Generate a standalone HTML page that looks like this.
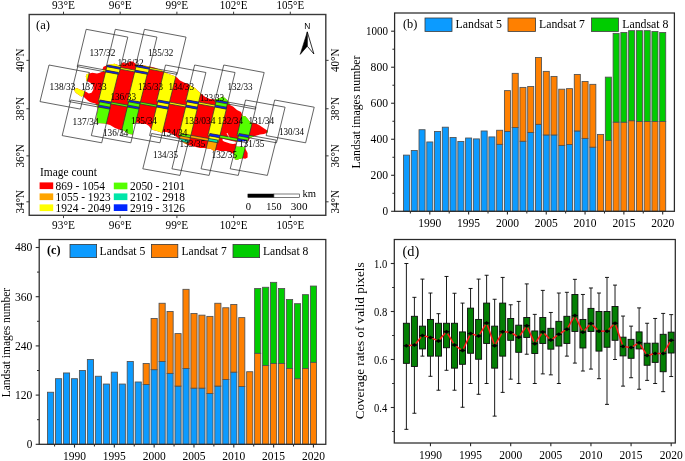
<!DOCTYPE html>
<html><head><meta charset="utf-8"><style>html,body{margin:0;padding:0;background:#fff;width:685px;height:461px;overflow:hidden}text{fill:#000}</style></head>
<body><svg width="685" height="461" viewBox="0 0 685 461" style="display:block;will-change:transform;font-family:'Liberation Serif',serif;fill:#000">
<rect width="685" height="461" fill="#fff"/>
<g>
<path d="M132.70,61.50 L130.40,61.50 L127.40,63.00 L125.00,63.50 L123.40,62.20 L121.60,63.30 L121.43,63.52 L119.30,66.20 L117.50,64.70 L114.60,63.80 L110.50,64.40 L107.79,65.10 L107.20,65.25 L107.00,65.30 L106.60,65.47 L103.50,66.80 L102.50,69.00 L102.66,69.55 L103.21,71.48 L103.25,71.60 L100.90,72.30 L99.00,73.10 L97.00,73.50 L92.30,72.70 L89.15,73.50 L87.60,73.90 L86.20,74.70 L85.80,76.50 L86.30,78.60 L86.45,81.00 L87.24,81.28 L88.40,81.70 L90.75,82.90 L92.70,84.50 L93.50,87.20 L93.10,90.30 L91.50,92.70 L88.80,93.40 L86.45,91.90 L84.80,91.22 L84.50,91.10 L82.90,90.70 L79.80,89.50 L76.70,88.00 L74.30,89.50 L74.30,90.30 L75.10,91.90 L76.70,93.40 L79.00,95.00 L81.40,96.60 L83.30,95.80 L83.55,96.28 L84.10,97.30 L86.00,98.90 L87.60,100.50 L90.00,102.00 L92.30,102.80 L95.40,103.60 L96.28,104.64 L97.00,105.50 L97.26,106.82 L97.50,108.00 L97.75,109.01 L98.00,110.00 L97.00,114.00 L96.50,119.00 L97.00,123.00 L105.00,123.50 L106.27,123.88 L110.00,125.00 L115.00,128.00 L119.00,129.50 L121.85,129.86 L123.00,130.00 L129.00,134.00 L132.84,134.48 L133.00,134.50 L133.00,133.82 L133.00,124.00 L135.61,123.02 L137.00,122.50 L142.00,124.00 L146.00,124.00 L149.00,126.00 L151.00,129.00 L151.16,129.08 L153.00,130.00 L157.00,131.00 L161.00,132.50 L162.48,132.35 L166.00,132.00 L170.00,133.00 L174.00,135.00 L178.00,138.00 L178.38,138.25 L179.38,138.92 L181.00,140.00 L182.62,141.62 L184.00,143.00 L187.63,144.81 L188.00,145.00 L192.00,146.00 L196.00,147.00 L200.00,148.00 L204.00,148.00 L206.18,148.27 L208.00,148.50 L211.00,149.00 L214.00,151.00 L215.32,150.56 L217.00,150.00 L220.00,151.00 L226.00,151.00 L230.00,152.00 L233.89,153.95 L234.00,154.00 L234.80,159.20 L236.80,160.00 L239.40,159.00 L242.00,158.20 L242.52,158.30 L245.30,158.80 L247.60,157.40 L247.60,153.00 L246.00,150.00 L245.06,148.12 L244.50,147.00 L236.00,146.50 L236.17,144.80 L236.50,141.60 L236.98,141.57 L239.78,141.42 L242.00,141.30 L246.82,141.08 L247.78,141.03 L248.50,141.00 L250.00,138.00 L250.05,137.98 L254.41,136.24 L255.00,136.00 L260.00,134.50 L264.00,134.00 L266.72,133.09 L267.00,133.00 L268.00,131.00 L267.33,130.55 L265.00,129.00 L262.00,127.00 L259.00,125.00 L256.00,123.50 L252.18,122.81 L250.50,122.50 L247.00,118.00 L245.00,116.00 L243.00,116.50 L242.09,114.45 L241.00,112.00 L237.00,110.00 L233.00,106.50 L230.00,105.00 L229.68,104.37 L228.61,102.22 L228.03,101.06 L228.00,101.00 L226.00,99.00 L223.00,96.50 L220.00,98.00 L217.00,99.00 L215.35,99.27 L214.00,99.50 L210.00,99.00 L206.00,97.50 L202.00,94.50 L200.77,93.43 L198.00,91.00 L195.00,88.00 L192.00,86.50 L189.71,85.07 L188.00,84.00 L184.00,82.50 L180.00,80.50 L177.00,77.50 L175.72,76.86 L173.00,75.50 L167.00,73.50 L164.75,72.09 L163.91,71.57 L163.00,71.00 L158.64,69.13 L156.00,68.00 L150.00,66.50 L149.84,66.47 L144.00,65.50 L138.01,65.30 L138.00,65.30 L138.00,65.30 L136.08,64.02 L135.00,63.30Z" fill="#ff0000"/>
<path d="M121.47,63.51 L121.47,63.51 L121.47,63.50 L121.47,63.50 L121.47,63.49 L121.47,63.49 L121.46,63.49 L121.46,63.48 L121.46,63.48 L121.45,63.48 L121.45,63.48 L121.44,63.47 L121.44,63.47 L121.43,63.47 L121.43,63.47 L121.42,63.47 L121.42,63.47 L121.41,63.47 L121.41,63.47 L121.40,63.47 L121.40,63.48 L121.40,63.48 L121.39,63.48 L121.39,63.49 L121.39,63.49 L119.29,66.13 L117.53,64.66 L117.53,64.66 L117.52,64.66 L117.52,64.65 L117.51,64.65 L114.61,63.75 L114.61,63.75 L114.61,63.75 L114.60,63.75 L114.60,63.75 L114.59,63.75 L110.49,64.35 L110.49,64.35 L107.77,65.05 L107.77,65.05 L107.77,65.05 L107.76,65.05 L107.76,65.06 L107.75,65.06 L107.75,65.06 L107.75,65.07 L107.74,65.07 L107.74,65.08 L107.74,65.08 L107.74,65.09 L107.74,65.09 L107.74,65.09 L107.74,65.10 L107.74,65.10 L107.74,65.11 L107.74,65.11 L107.74,65.12 L107.74,65.12 L107.75,65.13 L107.75,65.13 L107.75,65.13 L107.76,65.14 L107.76,65.14 L107.76,65.14 L107.77,65.14 L107.77,65.15 L107.78,65.15 L120.42,67.49 L120.02,69.12 L106.90,66.66 L107.25,65.26 L107.25,65.26 L107.25,65.25 L107.25,65.25 L107.25,65.24 L107.25,65.24 L107.25,65.23 L107.24,65.23 L107.24,65.22 L107.24,65.22 L107.24,65.22 L107.23,65.21 L107.23,65.21 L107.22,65.21 L107.22,65.20 L107.22,65.20 L107.21,65.20 L107.21,65.20 L107.20,65.20 L107.20,65.20 L107.19,65.20 L107.19,65.20 L106.99,65.25 L106.98,65.25 L106.98,65.25 L106.58,65.42 L106.58,65.43 L106.57,65.43 L106.57,65.43 L106.57,65.44 L106.56,65.44 L106.56,65.44 L106.56,65.45 L106.56,65.45 L106.55,65.46 L106.28,66.59 L106.28,66.59 L106.28,66.60 L106.28,66.60 L106.28,66.61 L106.28,66.61 L106.28,66.62 L106.28,66.62 L106.29,66.63 L106.29,66.63 L106.29,66.63 L106.30,66.64 L106.30,66.64 L106.30,66.64 L106.31,66.64 L106.31,66.65 L106.32,66.65 L106.32,66.65 L106.78,66.74 L105.95,70.11 L102.67,69.50 L102.66,69.50 L102.66,69.50 L102.65,69.50 L102.65,69.50 L102.64,69.51 L102.64,69.51 L102.64,69.51 L102.63,69.51 L102.63,69.52 L102.62,69.52 L102.62,69.52 L102.62,69.53 L102.62,69.53 L102.61,69.53 L102.61,69.54 L102.61,69.54 L102.61,69.55 L102.61,69.55 L102.61,69.56 L102.61,69.56 L102.61,69.57 L103.17,71.49 L103.17,71.50 L103.17,71.50 L103.17,71.51 L103.18,71.51 L103.18,71.51 L103.18,71.52 L103.19,71.52 L103.19,71.52 L103.20,71.52 L103.20,71.53 L103.21,71.53 L105.50,71.96 L98.21,101.59 L98.21,101.59 L98.21,101.60 L98.21,101.60 L98.21,101.61 L98.21,101.61 L98.21,101.62 L98.21,101.62 L98.22,101.63 L98.22,101.63 L98.22,101.63 L98.23,101.64 L98.23,101.64 L98.23,101.64 L98.24,101.64 L98.24,101.65 L98.25,101.65 L98.25,101.65 L99.48,101.88 L99.48,101.88 L99.49,101.88 L99.49,101.88 L99.50,101.88 L99.50,101.88 L99.51,101.87 L99.51,101.87 L99.52,101.87 L99.52,101.87 L99.53,101.86 L99.53,101.86 L99.53,101.85 L99.53,101.85 L99.54,101.84 L99.54,101.84 L99.97,100.06 L111.25,102.11 L111.26,102.12 L111.26,102.12 L111.27,102.11 L111.27,102.11 L111.28,102.11 L111.28,102.11 L111.28,102.11 L111.29,102.11 L111.29,102.10 L111.30,102.10 L111.30,102.10 L111.30,102.09 L111.31,102.09 L111.31,102.08 L111.31,102.08 L118.13,74.33 L118.79,74.45 L118.80,74.45 L118.80,74.45 L118.81,74.45 L118.81,74.45 L118.82,74.45 L118.82,74.45 L118.83,74.44 L118.83,74.44 L118.83,74.44 L118.84,74.43 L118.84,74.43 L118.84,74.43 L118.85,74.42 L118.85,74.42 L118.85,74.41 L120.10,69.23 L134.63,71.96 L127.34,101.59 L127.34,101.59 L127.34,101.60 L127.34,101.60 L127.34,101.61 L127.34,101.61 L127.34,101.62 L127.34,101.62 L127.35,101.63 L127.35,101.63 L127.35,101.63 L127.36,101.64 L127.36,101.64 L127.36,101.64 L127.37,101.64 L127.37,101.65 L127.38,101.65 L127.38,101.65 L128.61,101.88 L128.61,101.88 L128.62,101.88 L128.62,101.88 L128.63,101.88 L128.63,101.88 L128.64,101.87 L128.64,101.87 L128.65,101.87 L128.65,101.87 L128.66,101.86 L128.66,101.86 L128.66,101.85 L128.66,101.85 L128.67,101.84 L128.67,101.84 L129.10,100.06 L140.38,102.11 L140.39,102.12 L140.39,102.12 L140.40,102.11 L140.40,102.11 L140.41,102.11 L140.41,102.11 L140.41,102.11 L140.42,102.11 L140.42,102.10 L140.43,102.10 L140.43,102.10 L140.43,102.09 L140.44,102.09 L140.44,102.08 L140.44,102.08 L147.26,74.33 L147.92,74.45 L147.93,74.45 L147.93,74.45 L147.94,74.45 L147.94,74.45 L147.95,74.45 L147.95,74.45 L147.96,74.44 L147.96,74.44 L147.96,74.44 L147.97,74.43 L147.97,74.43 L147.97,74.43 L147.98,74.42 L147.98,74.42 L147.98,74.41 L149.23,69.23 L163.76,71.96 L156.47,101.59 L156.47,101.59 L156.47,101.60 L156.47,101.60 L156.47,101.61 L156.47,101.61 L156.47,101.62 L156.47,101.62 L156.48,101.63 L156.48,101.63 L156.48,101.63 L156.49,101.64 L156.49,101.64 L156.49,101.64 L156.50,101.64 L156.50,101.65 L156.51,101.65 L156.51,101.65 L157.69,101.87 L156.91,105.07 L156.91,105.08 L156.91,105.08 L156.91,105.09 L156.91,105.09 L156.91,105.10 L156.91,105.10 L156.92,105.11 L156.92,105.11 L156.92,105.12 L156.92,105.12 L156.93,105.12 L156.93,105.13 L156.93,105.13 L156.94,105.13 L156.94,105.13 L156.95,105.13 L156.95,105.14 L168.21,107.19 L167.75,109.04 L156.51,106.95 L156.50,106.95 L156.50,106.95 L156.49,106.95 L156.49,106.95 L156.48,106.96 L156.48,106.96 L156.47,106.96 L156.47,106.96 L156.46,106.97 L156.46,106.97 L156.46,106.97 L156.46,106.98 L156.45,106.98 L156.45,106.99 L156.45,106.99 L151.12,129.07 L151.12,129.08 L151.11,129.08 L151.11,129.08 L151.12,129.09 L151.12,129.09 L151.12,129.10 L151.12,129.10 L151.12,129.11 L151.12,129.11 L151.13,129.12 L151.13,129.12 L151.13,129.12 L151.14,129.12 L151.14,129.13 L152.98,130.04 L152.98,130.05 L152.99,130.05 L156.99,131.05 L160.98,132.55 L160.99,132.55 L160.99,132.55 L161.00,132.55 L161.00,132.55 L161.00,132.55 L162.49,132.40 L162.49,132.40 L162.50,132.40 L162.50,132.40 L162.51,132.40 L162.51,132.39 L162.52,132.39 L162.52,132.39 L162.52,132.38 L162.52,132.38 L162.53,132.38 L162.53,132.37 L162.53,132.37 L162.53,132.36 L168.61,107.21 L168.61,107.21 L168.61,107.20 L168.61,107.20 L168.61,107.19 L168.61,107.19 L168.61,107.18 L168.61,107.18 L168.60,107.17 L168.60,107.17 L168.60,107.17 L168.59,107.16 L168.59,107.16 L168.59,107.16 L168.58,107.16 L168.58,107.15 L168.57,107.15 L168.57,107.15 L168.33,107.11 L169.10,103.99 L185.57,107.04 L178.67,135.59 L178.67,135.59 L178.67,135.60 L178.67,135.60 L178.67,135.61 L178.67,135.61 L178.67,135.62 L178.67,135.62 L178.68,135.63 L178.68,135.63 L178.68,135.63 L178.69,135.64 L178.69,135.64 L178.69,135.64 L178.70,135.64 L178.70,135.65 L178.71,135.65 L178.71,135.65 L180.13,135.91 L180.14,135.91 L180.14,135.91 L180.15,135.91 L180.15,135.91 L180.16,135.91 L180.16,135.90 L180.17,135.90 L180.17,135.90 L180.17,135.90 L180.18,135.89 L180.18,135.89 L180.18,135.89 L180.19,135.88 L180.19,135.88 L180.19,135.87 L180.77,133.56 L190.89,135.35 L190.90,135.35 L190.90,135.35 L190.91,135.35 L190.91,135.35 L190.92,135.35 L190.92,135.35 L190.93,135.35 L190.93,135.34 L190.93,135.34 L190.94,135.34 L190.94,135.33 L190.94,135.33 L190.95,135.33 L190.95,135.32 L190.95,135.32 L197.74,107.21 L197.74,107.21 L197.74,107.20 L197.74,107.20 L197.74,107.19 L197.74,107.19 L197.74,107.18 L197.74,107.18 L197.73,107.17 L197.73,107.17 L197.73,107.17 L197.72,107.16 L197.72,107.16 L197.72,107.16 L197.71,107.16 L197.71,107.15 L197.70,107.15 L197.70,107.15 L197.46,107.11 L198.23,103.99 L214.70,107.04 L207.80,135.59 L207.80,135.59 L207.80,135.60 L207.80,135.60 L207.80,135.61 L207.80,135.61 L207.80,135.62 L207.80,135.62 L207.81,135.63 L207.81,135.63 L207.81,135.63 L207.82,135.64 L207.82,135.64 L207.82,135.64 L207.83,135.64 L207.83,135.65 L207.84,135.65 L207.84,135.65 L209.21,135.90 L208.58,138.44 L208.58,138.44 L208.58,138.45 L208.58,138.45 L208.58,138.46 L208.58,138.46 L208.58,138.47 L208.58,138.47 L208.58,138.47 L208.59,138.48 L208.59,138.48 L208.59,138.49 L208.60,138.49 L208.60,138.49 L208.60,138.49 L208.61,138.50 L208.61,138.50 L208.62,138.50 L217.87,140.14 L217.25,142.62 L217.25,142.62 L217.25,142.63 L217.25,142.63 L217.25,142.64 L217.25,142.64 L217.25,142.65 L217.25,142.65 L217.26,142.66 L217.26,142.66 L217.26,142.66 L217.26,142.67 L217.27,142.67 L217.27,142.67 L217.28,142.68 L217.28,142.68 L217.29,142.68 L217.29,142.68 L218.21,142.85 L218.22,142.85 L218.22,142.85 L218.23,142.85 L218.23,142.85 L218.24,142.85 L218.24,142.85 L218.25,142.84 L218.25,142.84 L218.25,142.84 L218.26,142.83 L218.26,142.83 L218.26,142.83 L218.27,142.82 L218.27,142.82 L218.27,142.81 L219.50,137.73 L219.50,137.72 L219.50,137.72 L219.50,137.71 L219.50,137.71 L219.50,137.70 L219.50,137.70 L219.49,137.69 L219.49,137.69 L219.49,137.68 L219.49,137.68 L219.48,137.68 L219.48,137.67 L219.48,137.67 L219.47,137.67 L219.47,137.67 L219.46,137.67 L219.46,137.66 L209.33,135.82 L209.90,133.56 L220.02,135.35 L220.03,135.35 L220.03,135.35 L220.04,135.35 L220.04,135.35 L220.05,135.35 L220.05,135.35 L220.06,135.35 L220.06,135.34 L220.06,135.34 L220.07,135.34 L220.07,135.33 L220.07,135.33 L220.08,135.33 L220.08,135.32 L220.08,135.32 L226.87,107.21 L226.87,107.21 L226.87,107.20 L226.87,107.20 L226.87,107.19 L226.87,107.19 L226.87,107.18 L226.87,107.18 L226.86,107.17 L226.86,107.17 L226.86,107.17 L226.85,107.16 L226.85,107.16 L226.85,107.16 L226.84,107.16 L226.84,107.15 L226.83,107.15 L226.83,107.15 L226.54,107.10 L226.53,107.10 L226.53,107.10 L226.52,107.10 L226.52,107.10 L226.51,107.10 L226.51,107.10 L226.51,107.10 L226.50,107.11 L226.50,107.11 L226.49,107.11 L226.49,107.12 L226.49,107.12 L226.49,107.13 L226.48,107.13 L226.48,107.14 L226.01,109.04 L214.82,106.96 L215.27,105.10 L215.27,105.09 L215.27,105.09 L215.27,105.08 L215.27,105.08 L215.27,105.07 L215.27,105.07 L215.27,105.06 L215.26,105.06 L215.26,105.06 L215.26,105.05 L215.26,105.05 L215.25,105.05 L215.25,105.04 L215.24,105.04 L215.24,105.04 L215.24,105.04 L215.23,105.04 L198.71,102.03 L200.82,93.44 L200.82,93.43 L200.82,93.43 L200.82,93.42 L200.82,93.42 L200.82,93.41 L200.82,93.41 L200.82,93.41 L200.82,93.40 L200.81,93.40 L200.81,93.39 L200.81,93.39 L198.03,90.96 L195.04,87.96 L195.03,87.96 L195.03,87.96 L195.02,87.96 L192.02,86.46 L189.74,85.03 L189.74,85.03 L189.73,85.02 L189.73,85.02 L189.72,85.02 L189.72,85.02 L189.71,85.02 L189.71,85.02 L189.70,85.02 L189.70,85.02 L189.69,85.03 L189.69,85.03 L189.68,85.03 L189.68,85.03 L189.68,85.04 L189.67,85.04 L189.67,85.05 L189.67,85.05 L189.67,85.05 L189.67,85.06 L185.60,101.59 L185.60,101.59 L185.60,101.60 L185.60,101.60 L185.60,101.61 L185.60,101.61 L185.60,101.62 L185.60,101.62 L185.61,101.63 L185.61,101.63 L185.61,101.63 L185.62,101.64 L185.62,101.64 L185.62,101.64 L185.63,101.64 L185.63,101.65 L185.64,101.65 L185.64,101.65 L186.82,101.87 L186.05,105.03 L169.58,102.03 L175.77,76.87 L175.77,76.87 L175.77,76.86 L175.77,76.86 L175.77,76.85 L175.77,76.85 L175.77,76.84 L175.76,76.84 L175.76,76.83 L175.76,76.83 L175.76,76.83 L175.75,76.82 L175.75,76.82 L175.74,76.82 L175.74,76.81 L173.02,75.46 L173.02,75.45 L167.02,73.45 L164.77,72.05 L164.77,72.05 L164.76,72.04 L164.76,72.04 L164.75,72.04 L163.88,71.88 L163.95,71.58 L163.95,71.57 L163.96,71.57 L163.96,71.56 L163.95,71.56 L163.95,71.55 L163.95,71.55 L163.95,71.54 L163.95,71.54 L163.95,71.54 L163.94,71.53 L163.94,71.53 L163.94,71.53 L163.93,71.52 L163.03,70.96 L163.02,70.96 L163.02,70.95 L158.66,69.08 L158.65,69.08 L158.65,69.08 L149.67,67.41 L149.89,66.49 L149.89,66.48 L149.89,66.48 L149.89,66.47 L149.89,66.47 L149.89,66.46 L149.89,66.46 L149.89,66.45 L149.89,66.45 L149.88,66.44 L149.88,66.44 L149.88,66.44 L149.87,66.43 L149.87,66.43 L149.86,66.43 L149.86,66.43 L149.86,66.43 L149.85,66.42 L144.01,65.45 L144.00,65.45 L138.02,65.25 L136.11,63.98 L136.11,63.98 L136.10,63.98 L136.10,63.97 L136.09,63.97 L136.09,63.97 L136.08,63.97 L136.08,63.97 L136.07,63.97 L136.07,63.97 L136.06,63.97 L136.06,63.98 L136.06,63.98 L136.05,63.98 L136.05,63.99 L136.04,63.99 L136.04,63.99 L136.04,64.00 L136.04,64.00 L136.03,64.01 L136.03,64.01 L135.41,66.59 L135.41,66.59 L135.41,66.60 L135.41,66.60 L135.41,66.61 L135.41,66.61 L135.41,66.62 L135.41,66.62 L135.42,66.63 L135.42,66.63 L135.42,66.63 L135.43,66.64 L135.43,66.64 L135.43,66.64 L135.44,66.64 L135.44,66.65 L135.45,66.65 L135.45,66.65 L135.91,66.74 L135.08,70.11 L120.54,67.41 L121.47,63.53 L121.47,63.53 L121.48,63.52 L121.47,63.52ZM136.03,66.66 L136.43,65.06 L137.99,65.35 L137.99,65.35 L137.99,65.35 L138.00,65.35 L149.55,67.49 L149.15,69.12ZM118.06,74.21 L105.62,71.88 L106.03,70.23 L118.47,72.54ZM147.60,72.54 L147.19,74.21 L134.75,71.88 L135.16,70.23ZM158.23,100.06 L169.46,102.10 L169.02,103.87 L157.81,101.79ZM196.88,109.04 L185.69,106.96 L186.13,105.14 L197.34,107.19ZM187.36,100.06 L198.59,102.10 L198.15,103.87 L186.94,101.79ZM89.20,73.49 L89.20,73.49 L89.20,73.48 L89.20,73.48 L89.19,73.47 L89.19,73.47 L89.19,73.47 L89.18,73.46 L89.18,73.46 L89.17,73.46 L89.17,73.46 L89.17,73.45 L89.16,73.45 L89.16,73.45 L89.15,73.45 L89.15,73.45 L89.14,73.45 L87.59,73.85 L87.58,73.85 L87.58,73.85 L87.58,73.86 L86.18,74.66 L86.17,74.66 L86.17,74.66 L86.16,74.67 L86.16,74.67 L86.16,74.67 L86.15,74.68 L86.15,74.68 L86.15,74.69 L85.75,76.49 L85.75,76.49 L85.75,76.50 L85.75,76.50 L85.75,76.51 L85.75,76.51 L86.25,78.61 L86.40,81.00 L86.40,81.01 L86.40,81.01 L86.40,81.02 L86.40,81.02 L86.41,81.03 L86.41,81.03 L86.41,81.03 L86.42,81.04 L86.42,81.04 L86.42,81.04 L86.43,81.05 L86.43,81.05 L87.22,81.33 L87.23,81.33 L87.23,81.33 L87.24,81.33 L87.24,81.33 L87.25,81.33 L87.25,81.33 L87.26,81.33 L87.26,81.33 L87.27,81.33 L87.27,81.32 L87.27,81.32 L87.28,81.32 L87.28,81.31 L87.28,81.31 L87.29,81.30 L87.29,81.30 L87.29,81.30 L89.20,73.52 L89.20,73.51 L89.20,73.51 L89.20,73.50 L89.20,73.50ZM84.84,91.21 L84.84,91.20 L84.84,91.20 L84.84,91.19 L84.84,91.19 L84.83,91.19 L84.83,91.18 L84.82,91.18 L84.82,91.18 L84.82,91.18 L84.52,91.05 L84.51,91.05 L82.92,90.65 L79.82,89.45 L76.72,87.95 L76.72,87.95 L76.71,87.95 L76.71,87.95 L76.70,87.95 L76.70,87.95 L76.69,87.95 L76.69,87.95 L76.68,87.95 L76.68,87.96 L76.67,87.96 L74.27,89.46 L74.27,89.46 L74.27,89.46 L74.26,89.47 L74.26,89.47 L74.26,89.48 L74.25,89.48 L74.25,89.49 L74.25,89.49 L74.25,89.49 L74.25,89.50 L74.25,90.30 L74.25,90.30 L74.25,90.31 L74.25,90.31 L74.25,90.32 L74.26,90.32 L75.06,91.92 L75.06,91.93 L75.06,91.93 L75.06,91.93 L75.07,91.94 L76.67,93.44 L76.67,93.44 L78.97,95.04 L78.97,95.04 L81.37,96.64 L81.38,96.64 L81.38,96.65 L81.39,96.65 L81.39,96.65 L81.40,96.65 L81.40,96.65 L81.41,96.65 L81.41,96.65 L81.41,96.65 L81.42,96.65 L83.28,95.86 L83.51,96.30 L83.51,96.30 L83.51,96.31 L83.52,96.31 L83.52,96.31 L83.53,96.32 L83.53,96.32 L83.53,96.32 L83.54,96.32 L83.54,96.32 L83.55,96.33 L83.55,96.33 L83.56,96.33 L83.56,96.32 L83.57,96.32 L83.57,96.32 L83.58,96.32 L83.58,96.32 L83.58,96.32 L83.59,96.31 L83.59,96.31 L83.59,96.30 L83.60,96.30 L83.60,96.30 L83.60,96.29 L83.60,96.29 L84.84,91.23 L84.85,91.23 L84.85,91.22 L84.85,91.22 L84.85,91.21Z" fill="#ffff00"/>
<path d="M136.39,64.95 L136.38,64.95 L136.38,64.95 L136.37,64.95 L136.37,64.95 L136.37,64.96 L136.36,64.96 L136.36,64.96 L136.35,64.97 L136.35,64.97 L136.35,64.97 L136.34,64.98 L136.34,64.98 L136.34,64.99 L135.92,66.68 L135.92,66.69 L135.92,66.69 L135.92,66.70 L135.92,66.70 L135.92,66.71 L135.93,66.71 L135.93,66.72 L135.93,66.72 L135.93,66.73 L135.94,66.73 L135.94,66.73 L135.94,66.74 L135.95,66.74 L135.95,66.74 L135.95,66.74 L135.96,66.74 L135.96,66.75 L149.18,69.22 L149.19,69.22 L149.19,69.22 L149.20,69.22 L149.20,69.22 L149.21,69.22 L149.21,69.22 L149.22,69.22 L149.22,69.22 L149.22,69.21 L149.23,69.21 L149.23,69.20 L149.23,69.20 L149.24,69.20 L149.24,69.19 L149.24,69.19 L149.65,67.47 L149.66,67.46 L149.66,67.46 L149.66,67.45 L149.66,67.45 L149.65,67.44 L149.65,67.44 L149.65,67.43 L149.65,67.43 L149.65,67.42 L149.64,67.42 L149.64,67.42 L149.64,67.41 L149.63,67.41 L149.63,67.41 L149.62,67.41 L149.62,67.41 L149.62,67.40 L138.02,65.25 L138.01,65.25 L138.01,65.25 L138.01,65.25 L136.40,64.95 L136.39,64.95ZM120.53,67.45 L120.52,67.44 L120.52,67.44 L120.52,67.43 L120.52,67.43 L120.52,67.42 L120.51,67.42 L120.51,67.42 L120.51,67.41 L120.50,67.41 L120.50,67.41 L120.49,67.41 L120.49,67.41 L120.49,67.40 L107.80,65.05 L107.79,65.05 L107.78,65.05 L107.78,65.05 L107.77,65.05 L107.19,65.20 L107.18,65.20 L107.18,65.20 L107.17,65.21 L107.17,65.21 L107.17,65.21 L107.16,65.22 L107.16,65.22 L107.16,65.22 L107.15,65.23 L107.15,65.23 L107.15,65.24 L106.79,66.68 L106.79,66.69 L106.79,66.69 L106.79,66.70 L106.79,66.70 L106.79,66.71 L106.80,66.71 L106.80,66.72 L106.80,66.72 L106.80,66.73 L106.81,66.73 L106.81,66.73 L106.81,66.74 L106.82,66.74 L106.82,66.74 L106.82,66.74 L106.83,66.74 L106.83,66.75 L120.05,69.22 L120.06,69.22 L120.06,69.22 L120.07,69.22 L120.07,69.22 L120.08,69.22 L120.08,69.22 L120.09,69.22 L120.09,69.22 L120.09,69.21 L120.10,69.21 L120.10,69.20 L120.10,69.20 L120.11,69.20 L120.11,69.19 L120.11,69.19 L120.52,67.47 L120.53,67.46 L120.53,67.46 L120.53,67.45ZM118.11,74.32 L118.11,74.32 L118.12,74.31 L118.12,74.31 L118.12,74.31 L118.13,74.31 L118.13,74.30 L118.14,74.30 L118.14,74.29 L118.14,74.29 L118.14,74.28 L118.14,74.28 L118.58,72.51 L118.58,72.51 L118.58,72.50 L118.58,72.50 L118.58,72.49 L118.58,72.49 L118.58,72.48 L118.58,72.48 L118.57,72.47 L118.57,72.47 L118.57,72.47 L118.56,72.46 L118.56,72.46 L118.56,72.46 L118.55,72.46 L118.55,72.45 L118.54,72.45 L118.54,72.45 L106.00,70.12 L105.99,70.12 L105.99,70.12 L105.98,70.12 L105.98,70.12 L105.97,70.12 L105.97,70.13 L105.96,70.13 L105.96,70.13 L105.96,70.13 L105.95,70.14 L105.95,70.14 L105.95,70.15 L105.94,70.15 L105.94,70.15 L105.94,70.16 L105.51,71.91 L105.51,71.91 L105.51,71.91 L105.51,71.92 L105.51,71.92 L105.51,71.93 L105.51,71.93 L105.51,71.94 L105.52,71.94 L105.52,71.95 L105.52,71.95 L105.52,71.95 L105.53,71.96 L105.53,71.96 L105.54,71.96 L105.54,71.96 L105.55,71.97 L105.55,71.97 L118.09,74.32 L118.09,74.32 L118.10,74.32 L118.10,74.32ZM147.24,74.32 L147.24,74.32 L147.25,74.31 L147.25,74.31 L147.25,74.31 L147.26,74.31 L147.26,74.30 L147.27,74.30 L147.27,74.29 L147.27,74.29 L147.27,74.28 L147.27,74.28 L147.71,72.51 L147.71,72.51 L147.71,72.50 L147.71,72.50 L147.71,72.49 L147.71,72.49 L147.71,72.48 L147.71,72.48 L147.70,72.47 L147.70,72.47 L147.70,72.47 L147.69,72.46 L147.69,72.46 L147.69,72.46 L147.68,72.46 L147.68,72.45 L147.67,72.45 L147.67,72.45 L135.13,70.12 L135.12,70.12 L135.12,70.12 L135.11,70.12 L135.11,70.12 L135.10,70.12 L135.10,70.13 L135.09,70.13 L135.09,70.13 L135.09,70.13 L135.08,70.14 L135.08,70.14 L135.08,70.15 L135.07,70.15 L135.07,70.15 L135.07,70.16 L134.64,71.91 L134.64,71.91 L134.64,71.91 L134.64,71.92 L134.64,71.92 L134.64,71.93 L134.64,71.93 L134.64,71.94 L134.65,71.94 L134.65,71.95 L134.65,71.95 L134.65,71.95 L134.66,71.96 L134.66,71.96 L134.67,71.96 L134.67,71.96 L134.68,71.97 L134.68,71.97 L147.22,74.32 L147.22,74.32 L147.23,74.32 L147.23,74.32ZM111.31,102.06 L111.31,102.05 L111.31,102.05 L111.31,102.04 L111.30,102.04 L111.30,102.04 L111.30,102.03 L111.29,102.03 L111.29,102.03 L111.29,102.02 L111.28,102.02 L111.28,102.02 L111.27,102.02 L111.27,102.02 L99.94,99.95 L99.93,99.95 L99.93,99.95 L99.92,99.95 L99.92,99.95 L99.91,99.95 L99.91,99.95 L99.90,99.96 L99.90,99.96 L99.90,99.96 L99.89,99.97 L99.89,99.97 L99.89,99.97 L99.88,99.98 L99.88,99.98 L99.88,99.99 L99.44,101.82 L99.44,101.82 L99.44,101.83 L99.44,101.83 L99.44,101.84 L99.44,101.84 L99.44,101.84 L99.44,101.85 L99.45,101.85 L99.45,101.86 L99.45,101.86 L99.45,101.86 L99.46,101.87 L99.46,101.87 L99.47,101.87 L99.47,101.87 L99.47,101.88 L99.48,101.88 L110.79,103.98 L110.80,103.98 L110.80,103.98 L110.81,103.98 L110.81,103.98 L110.82,103.98 L110.82,103.97 L110.83,103.97 L110.83,103.97 L110.83,103.97 L110.84,103.96 L110.84,103.96 L110.84,103.95 L110.85,103.95 L110.85,103.95 L110.85,103.94 L111.31,102.08 L111.31,102.07 L111.31,102.07 L111.31,102.06ZM140.44,102.06 L140.44,102.05 L140.44,102.05 L140.44,102.04 L140.43,102.04 L140.43,102.04 L140.43,102.03 L140.42,102.03 L140.42,102.03 L140.42,102.02 L140.41,102.02 L140.41,102.02 L140.40,102.02 L140.40,102.02 L129.07,99.95 L129.06,99.95 L129.06,99.95 L129.05,99.95 L129.05,99.95 L129.04,99.95 L129.04,99.95 L129.03,99.96 L129.03,99.96 L129.03,99.96 L129.02,99.97 L129.02,99.97 L129.02,99.97 L129.01,99.98 L129.01,99.98 L129.01,99.99 L128.57,101.82 L128.57,101.82 L128.57,101.83 L128.57,101.83 L128.57,101.84 L128.57,101.84 L128.57,101.84 L128.57,101.85 L128.58,101.85 L128.58,101.86 L128.58,101.86 L128.58,101.86 L128.59,101.87 L128.59,101.87 L128.60,101.87 L128.60,101.87 L128.60,101.88 L128.61,101.88 L139.92,103.98 L139.93,103.98 L139.93,103.98 L139.94,103.98 L139.94,103.98 L139.95,103.98 L139.95,103.97 L139.96,103.97 L139.96,103.97 L139.96,103.97 L139.97,103.96 L139.97,103.96 L139.97,103.95 L139.98,103.95 L139.98,103.95 L139.98,103.94 L140.44,102.08 L140.44,102.07 L140.44,102.07 L140.44,102.06ZM109.54,109.15 L109.55,109.15 L109.55,109.15 L109.55,109.14 L109.56,109.14 L109.56,109.14 L109.57,109.13 L109.57,109.13 L109.57,109.13 L109.58,109.12 L109.58,109.12 L109.58,109.11 L110.06,107.16 L110.06,107.15 L110.06,107.15 L110.06,107.14 L110.06,107.14 L110.06,107.14 L110.06,107.13 L110.06,107.13 L110.05,107.12 L110.05,107.12 L110.05,107.11 L110.04,107.11 L110.04,107.11 L110.04,107.10 L110.03,107.10 L110.03,107.10 L110.02,107.10 L110.02,107.10 L98.71,105.04 L98.71,105.04 L98.70,105.04 L98.70,105.04 L98.69,105.04 L98.69,105.04 L98.68,105.04 L98.68,105.04 L98.67,105.05 L98.67,105.05 L98.66,105.05 L98.66,105.06 L98.66,105.06 L98.66,105.06 L98.65,105.07 L98.65,105.07 L98.19,106.99 L98.19,107.00 L98.19,107.00 L98.19,107.01 L98.19,107.01 L98.19,107.02 L98.19,107.02 L98.19,107.02 L98.19,107.03 L98.20,107.03 L98.20,107.04 L98.20,107.04 L98.21,107.04 L98.21,107.05 L98.22,107.05 L98.22,107.05 L98.22,107.05 L98.23,107.05 L109.52,109.15 L109.53,109.15 L109.53,109.15 L109.54,109.15ZM138.68,109.15 L138.68,109.15 L138.68,109.14 L138.69,109.14 L138.69,109.14 L138.70,109.13 L138.70,109.13 L138.70,109.13 L138.71,109.12 L138.71,109.12 L138.71,109.11 L139.19,107.16 L139.19,107.15 L139.19,107.15 L139.19,107.14 L139.19,107.14 L139.19,107.14 L139.19,107.13 L139.19,107.13 L139.18,107.12 L139.18,107.12 L139.18,107.11 L139.17,107.11 L139.17,107.11 L139.17,107.10 L139.16,107.10 L139.16,107.10 L139.15,107.10 L139.15,107.10 L127.84,105.04 L127.84,105.04 L127.83,105.04 L127.83,105.04 L127.82,105.04 L127.82,105.04 L127.81,105.04 L127.81,105.04 L127.80,105.05 L127.80,105.05 L127.79,105.05 L127.79,105.06 L127.79,105.06 L127.79,105.06 L127.78,105.07 L127.78,105.07 L127.32,106.99 L127.32,107.00 L127.32,107.00 L127.32,107.01 L127.32,107.01 L127.32,107.02 L127.32,107.02 L127.32,107.02 L127.32,107.03 L127.33,107.03 L127.33,107.04 L127.33,107.04 L127.34,107.04 L127.34,107.05 L127.35,107.05 L127.35,107.05 L127.35,107.05 L127.36,107.05 L138.65,109.15 L138.66,109.15 L138.66,109.15 L138.67,109.15 L138.67,109.15ZM167.81,109.15 L167.81,109.15 L167.81,109.14 L167.82,109.14 L167.82,109.14 L167.83,109.13 L167.83,109.13 L167.83,109.13 L167.84,109.12 L167.84,109.12 L167.84,109.11 L168.32,107.16 L168.32,107.15 L168.32,107.15 L168.32,107.14 L168.32,107.14 L168.32,107.14 L168.32,107.13 L168.32,107.13 L168.31,107.12 L168.31,107.12 L168.31,107.11 L168.30,107.11 L168.30,107.11 L168.30,107.10 L168.29,107.10 L168.29,107.10 L168.28,107.10 L168.28,107.10 L156.97,105.04 L156.97,105.04 L156.96,105.04 L156.96,105.04 L156.95,105.04 L156.95,105.04 L156.94,105.04 L156.94,105.04 L156.93,105.05 L156.93,105.05 L156.92,105.05 L156.92,105.06 L156.92,105.06 L156.92,105.06 L156.91,105.07 L156.91,105.07 L156.45,106.99 L156.45,107.00 L156.45,107.00 L156.45,107.01 L156.45,107.01 L156.45,107.02 L156.45,107.02 L156.45,107.02 L156.45,107.03 L156.46,107.03 L156.46,107.04 L156.46,107.04 L156.47,107.04 L156.47,107.05 L156.48,107.05 L156.48,107.05 L156.48,107.05 L156.49,107.05 L167.78,109.15 L167.79,109.15 L167.79,109.15 L167.80,109.15 L167.80,109.15ZM164.76,72.14 L164.76,72.14 L164.77,72.14 L164.77,72.13 L164.77,72.13 L164.78,72.13 L164.78,72.13 L164.78,72.12 L164.79,72.12 L164.79,72.11 L164.79,72.11 L164.79,72.10 L164.79,72.10 L164.80,72.09 L164.80,72.09 L164.80,72.08 L164.79,72.08 L164.79,72.08 L164.79,72.07 L164.79,72.07 L164.79,72.06 L164.78,72.06 L164.78,72.05 L164.78,72.05 L164.77,72.05 L163.93,71.52 L163.93,71.52 L163.92,71.52 L163.92,71.52 L163.91,71.52 L163.91,71.52 L163.90,71.52 L163.90,71.52 L163.89,71.52 L163.89,71.52 L163.88,71.52 L163.88,71.52 L163.88,71.53 L163.87,71.53 L163.87,71.53 L163.87,71.54 L163.86,71.54 L163.86,71.54 L163.86,71.55 L163.86,71.55 L163.77,71.91 L163.77,71.91 L163.77,71.91 L163.77,71.92 L163.77,71.92 L163.77,71.93 L163.77,71.93 L163.77,71.94 L163.78,71.94 L163.78,71.95 L163.78,71.95 L163.78,71.95 L163.79,71.96 L163.79,71.96 L163.80,71.96 L163.80,71.96 L163.81,71.97 L163.81,71.97 L164.74,72.14 L164.74,72.14 L164.75,72.14 L164.75,72.14ZM169.57,102.06 L169.57,102.05 L169.57,102.05 L169.57,102.04 L169.56,102.04 L169.56,102.04 L169.56,102.03 L169.55,102.03 L169.55,102.03 L169.55,102.02 L169.54,102.02 L169.54,102.02 L169.53,102.02 L169.53,102.02 L158.20,99.95 L158.19,99.95 L158.19,99.95 L158.18,99.95 L158.18,99.95 L158.17,99.95 L158.17,99.95 L158.16,99.96 L158.16,99.96 L158.16,99.96 L158.15,99.97 L158.15,99.97 L158.15,99.97 L158.14,99.98 L158.14,99.98 L158.14,99.99 L157.70,101.82 L157.70,101.82 L157.70,101.83 L157.70,101.83 L157.70,101.84 L157.70,101.84 L157.70,101.84 L157.70,101.85 L157.71,101.85 L157.71,101.86 L157.71,101.86 L157.71,101.86 L157.72,101.87 L157.72,101.87 L157.73,101.87 L157.73,101.87 L157.73,101.88 L157.74,101.88 L169.05,103.98 L169.06,103.98 L169.06,103.98 L169.07,103.98 L169.07,103.98 L169.08,103.98 L169.08,103.97 L169.09,103.97 L169.09,103.97 L169.09,103.97 L169.10,103.96 L169.10,103.96 L169.10,103.95 L169.11,103.95 L169.11,103.95 L169.11,103.94 L169.57,102.08 L169.57,102.07 L169.57,102.07 L169.57,102.06ZM198.70,102.06 L198.70,102.05 L198.70,102.05 L198.70,102.04 L198.69,102.04 L198.69,102.04 L198.69,102.03 L198.68,102.03 L198.68,102.03 L198.68,102.02 L198.67,102.02 L198.67,102.02 L198.66,102.02 L198.66,102.02 L187.33,99.95 L187.32,99.95 L187.32,99.95 L187.31,99.95 L187.31,99.95 L187.30,99.95 L187.30,99.95 L187.29,99.96 L187.29,99.96 L187.29,99.96 L187.28,99.97 L187.28,99.97 L187.28,99.97 L187.27,99.98 L187.27,99.98 L187.27,99.99 L186.83,101.82 L186.83,101.82 L186.83,101.83 L186.83,101.83 L186.83,101.84 L186.83,101.84 L186.83,101.84 L186.83,101.85 L186.84,101.85 L186.84,101.86 L186.84,101.86 L186.84,101.86 L186.85,101.87 L186.85,101.87 L186.86,101.87 L186.86,101.87 L186.86,101.88 L186.87,101.88 L198.18,103.98 L198.19,103.98 L198.19,103.98 L198.20,103.98 L198.20,103.98 L198.21,103.98 L198.21,103.97 L198.22,103.97 L198.22,103.97 L198.22,103.97 L198.23,103.96 L198.23,103.96 L198.23,103.95 L198.24,103.95 L198.24,103.95 L198.24,103.94 L198.70,102.08 L198.70,102.07 L198.70,102.07 L198.70,102.06ZM227.83,102.06 L227.83,102.05 L227.83,102.05 L227.83,102.04 L227.82,102.04 L227.82,102.04 L227.82,102.03 L227.81,102.03 L227.81,102.03 L227.81,102.02 L227.80,102.02 L227.80,102.02 L227.79,102.02 L227.79,102.02 L216.46,99.95 L216.45,99.95 L216.45,99.95 L216.44,99.95 L216.44,99.95 L216.43,99.95 L216.43,99.95 L216.42,99.96 L216.42,99.96 L216.42,99.96 L216.41,99.97 L216.41,99.97 L216.41,99.97 L216.40,99.98 L216.40,99.98 L216.40,99.99 L215.96,101.82 L215.96,101.82 L215.96,101.83 L215.96,101.83 L215.96,101.84 L215.96,101.84 L215.96,101.84 L215.96,101.85 L215.97,101.85 L215.97,101.86 L215.97,101.86 L215.97,101.86 L215.98,101.87 L215.98,101.87 L215.99,101.87 L215.99,101.87 L215.99,101.88 L216.00,101.88 L227.31,103.98 L227.32,103.98 L227.32,103.98 L227.33,103.98 L227.33,103.98 L227.34,103.98 L227.34,103.97 L227.35,103.97 L227.35,103.97 L227.35,103.97 L227.36,103.96 L227.36,103.96 L227.36,103.95 L227.37,103.95 L227.37,103.95 L227.37,103.94 L227.83,102.08 L227.83,102.07 L227.83,102.07 L227.83,102.06ZM196.93,109.15 L196.94,109.15 L196.94,109.15 L196.94,109.14 L196.95,109.14 L196.95,109.14 L196.96,109.13 L196.96,109.13 L196.96,109.13 L196.97,109.12 L196.97,109.12 L196.97,109.11 L197.45,107.16 L197.45,107.15 L197.45,107.15 L197.45,107.14 L197.45,107.14 L197.45,107.14 L197.45,107.13 L197.45,107.13 L197.44,107.12 L197.44,107.12 L197.44,107.11 L197.43,107.11 L197.43,107.11 L197.43,107.10 L197.42,107.10 L197.42,107.10 L197.41,107.10 L197.41,107.10 L186.10,105.04 L186.10,105.04 L186.09,105.04 L186.09,105.04 L186.08,105.04 L186.08,105.04 L186.07,105.04 L186.07,105.04 L186.06,105.05 L186.06,105.05 L186.05,105.05 L186.05,105.06 L186.05,105.06 L186.05,105.06 L186.04,105.07 L186.04,105.07 L185.58,106.99 L185.58,107.00 L185.58,107.00 L185.58,107.01 L185.58,107.01 L185.58,107.02 L185.58,107.02 L185.58,107.02 L185.58,107.03 L185.59,107.03 L185.59,107.04 L185.59,107.04 L185.60,107.04 L185.60,107.05 L185.61,107.05 L185.61,107.05 L185.61,107.05 L185.62,107.05 L196.91,109.15 L196.92,109.15 L196.92,109.15 L196.93,109.15ZM226.06,109.15 L226.07,109.15 L226.07,109.15 L226.07,109.14 L226.08,109.14 L226.08,109.14 L226.09,109.13 L226.09,109.13 L226.09,109.13 L226.10,109.12 L226.10,109.12 L226.10,109.11 L226.58,107.16 L226.58,107.15 L226.58,107.15 L226.58,107.14 L226.58,107.14 L226.58,107.14 L226.58,107.13 L226.58,107.13 L226.57,107.12 L226.57,107.12 L226.57,107.11 L226.56,107.11 L226.56,107.11 L226.56,107.10 L226.55,107.10 L226.55,107.10 L226.54,107.10 L226.54,107.10 L215.23,105.04 L215.23,105.04 L215.22,105.04 L215.22,105.04 L215.21,105.04 L215.21,105.04 L215.20,105.04 L215.20,105.04 L215.19,105.05 L215.19,105.05 L215.18,105.05 L215.18,105.06 L215.18,105.06 L215.18,105.06 L215.17,105.07 L215.17,105.07 L214.71,106.99 L214.71,107.00 L214.71,107.00 L214.71,107.01 L214.71,107.01 L214.71,107.02 L214.71,107.02 L214.71,107.02 L214.71,107.03 L214.72,107.03 L214.72,107.04 L214.72,107.04 L214.73,107.04 L214.73,107.05 L214.74,107.05 L214.74,107.05 L214.74,107.05 L214.75,107.05 L226.04,109.15 L226.05,109.15 L226.05,109.15 L226.06,109.15ZM220.08,135.30 L220.08,135.29 L220.08,135.29 L220.08,135.28 L220.07,135.28 L220.07,135.28 L220.07,135.27 L220.06,135.27 L220.06,135.26 L220.06,135.26 L220.05,135.26 L220.05,135.26 L220.04,135.26 L220.04,135.26 L209.87,133.45 L209.86,133.45 L209.86,133.45 L209.85,133.45 L209.85,133.45 L209.84,133.45 L209.84,133.45 L209.83,133.46 L209.83,133.46 L209.83,133.46 L209.82,133.47 L209.82,133.47 L209.82,133.47 L209.81,133.48 L209.81,133.48 L209.81,133.49 L209.22,135.85 L209.22,135.85 L209.22,135.86 L209.22,135.86 L209.22,135.87 L209.22,135.87 L209.22,135.88 L209.23,135.88 L209.23,135.88 L209.23,135.89 L209.23,135.89 L209.24,135.90 L209.24,135.90 L209.25,135.90 L209.25,135.90 L209.25,135.91 L209.26,135.91 L209.26,135.91 L219.44,137.76 L219.44,137.76 L219.45,137.76 L219.45,137.76 L219.46,137.76 L219.46,137.76 L219.47,137.76 L219.47,137.76 L219.48,137.75 L219.48,137.75 L219.49,137.75 L219.49,137.74 L219.49,137.74 L219.49,137.74 L219.50,137.73 L219.50,137.73 L220.08,135.32 L220.08,135.31 L220.08,135.31 L220.08,135.30ZM249.21,135.29 L249.21,135.29 L249.21,135.28 L249.20,135.28 L249.20,135.28 L249.20,135.27 L249.19,135.27 L249.19,135.26 L249.19,135.26 L249.18,135.26 L249.18,135.26 L249.17,135.26 L249.17,135.26 L239.00,133.45 L238.99,133.45 L238.99,133.45 L238.98,133.45 L238.98,133.45 L238.97,133.45 L238.97,133.45 L238.96,133.46 L238.96,133.46 L238.96,133.46 L238.95,133.47 L238.95,133.47 L238.95,133.47 L238.94,133.48 L238.94,133.48 L238.94,133.49 L238.35,135.85 L238.35,135.85 L238.35,135.86 L238.35,135.86 L238.35,135.87 L238.35,135.87 L238.35,135.88 L238.36,135.88 L238.36,135.88 L238.36,135.89 L238.36,135.89 L238.37,135.90 L238.37,135.90 L238.38,135.90 L238.38,135.90 L238.38,135.91 L238.39,135.91 L238.39,135.91 L248.57,137.76 L248.57,137.76 L248.58,137.76 L248.58,137.76 L248.59,137.76 L248.59,137.76 L248.60,137.76 L248.60,137.76 L248.61,137.75 L248.61,137.75 L248.62,137.75 L248.62,137.74 L248.62,137.74 L248.62,137.74 L248.63,137.73 L248.63,137.73 L249.21,135.32 L249.21,135.31 L249.21,135.31 L249.21,135.30 L249.21,135.30ZM246.82,141.13 L246.83,141.13 L246.83,141.12 L246.84,141.12 L246.84,141.12 L246.85,141.12 L246.85,141.11 L246.85,141.11 L246.86,141.11 L246.86,141.10 L246.86,141.10 L246.86,141.09 L246.86,141.09 L247.11,140.11 L247.11,140.11 L247.11,140.10 L247.11,140.10 L247.11,140.09 L247.11,140.09 L247.11,140.08 L247.11,140.08 L247.10,140.07 L247.10,140.07 L247.10,140.07 L247.09,140.06 L247.09,140.06 L247.09,140.06 L247.08,140.06 L247.08,140.05 L247.07,140.05 L247.07,140.05 L237.76,138.40 L237.76,138.40 L237.75,138.40 L237.75,138.40 L237.75,138.40 L237.74,138.40 L237.74,138.40 L237.73,138.41 L237.73,138.41 L237.72,138.41 L237.72,138.42 L237.72,138.42 L237.71,138.42 L237.71,138.43 L237.71,138.43 L237.71,138.44 L237.09,140.93 L237.09,140.93 L237.09,140.94 L237.09,140.94 L237.09,140.95 L237.09,140.95 L237.09,140.95 L237.09,140.96 L237.09,140.96 L237.10,140.97 L237.10,140.97 L237.10,140.97 L237.11,140.98 L237.11,140.98 L237.11,140.98 L237.12,140.98 L237.12,140.99 L237.13,140.99 L239.77,141.47 L239.78,141.47 L239.79,141.47 L242.00,141.35 L246.82,141.13Z" fill="#0026ff"/>
<path d="M99.49,101.78 L99.48,101.78 L99.48,101.78 L99.47,101.78 L99.47,101.78 L99.46,101.78 L99.46,101.79 L99.46,101.79 L99.45,101.79 L99.45,101.80 L99.45,101.80 L99.44,101.81 L99.44,101.81 L99.44,101.82 L98.66,105.03 L96.29,104.60 L96.28,104.59 L96.28,104.59 L96.27,104.59 L96.27,104.60 L96.26,104.60 L96.26,104.60 L96.26,104.60 L96.25,104.60 L96.25,104.61 L96.24,104.61 L96.24,104.61 L96.24,104.62 L96.24,104.62 L96.23,104.63 L96.23,104.63 L96.23,104.64 L96.23,104.64 L96.23,104.65 L96.23,104.65 L96.23,104.65 L96.23,104.66 L96.23,104.66 L96.24,104.67 L96.24,104.67 L96.24,104.68 L96.95,105.52 L97.22,106.83 L97.22,106.84 L97.22,106.84 L97.22,106.85 L97.22,106.85 L97.23,106.85 L97.23,106.86 L97.23,106.86 L97.24,106.86 L97.24,106.87 L97.25,106.87 L97.25,106.87 L97.26,106.87 L98.18,107.04 L97.70,109.00 L97.70,109.00 L97.70,109.01 L97.70,109.01 L97.70,109.02 L97.70,109.02 L97.95,110.00 L96.95,113.99 L96.95,114.00 L96.45,119.00 L96.45,119.00 L96.45,119.01 L96.95,123.01 L96.95,123.01 L96.95,123.02 L96.95,123.02 L96.96,123.02 L96.96,123.03 L96.96,123.03 L96.97,123.04 L96.97,123.04 L96.97,123.04 L96.98,123.04 L96.98,123.05 L96.99,123.05 L96.99,123.05 L97.00,123.05 L104.99,123.55 L106.26,123.93 L106.26,123.93 L106.27,123.93 L106.27,123.93 L106.27,123.93 L106.28,123.93 L106.28,123.93 L106.29,123.93 L106.29,123.93 L106.30,123.92 L106.30,123.92 L106.30,123.92 L106.31,123.91 L106.31,123.91 L106.31,123.91 L106.32,123.90 L106.32,123.90 L106.32,123.89 L110.35,107.21 L110.35,107.21 L110.35,107.20 L110.35,107.20 L110.35,107.19 L110.35,107.19 L110.35,107.18 L110.35,107.18 L110.34,107.17 L110.34,107.17 L110.34,107.17 L110.33,107.16 L110.33,107.16 L110.33,107.16 L110.32,107.16 L110.32,107.15 L110.31,107.15 L110.31,107.15 L110.07,107.11 L110.84,103.99 L127.31,107.04 L121.80,129.84 L121.80,129.85 L121.80,129.85 L121.80,129.86 L121.80,129.86 L121.80,129.87 L121.80,129.87 L121.80,129.88 L121.81,129.88 L121.81,129.89 L121.81,129.89 L121.81,129.89 L121.82,129.90 L121.82,129.90 L121.83,129.90 L121.83,129.90 L121.84,129.90 L121.84,129.91 L122.98,130.05 L128.97,134.04 L128.98,134.04 L128.98,134.05 L128.98,134.05 L128.99,134.05 L128.99,134.05 L132.83,134.53 L132.84,134.53 L132.84,134.53 L132.85,134.53 L132.85,134.53 L132.86,134.53 L132.86,134.52 L132.87,134.52 L132.87,134.52 L132.87,134.52 L132.88,134.51 L132.88,134.51 L132.88,134.51 L132.89,134.50 L132.89,134.50 L132.89,134.49 L133.05,133.83 L133.05,133.82 L133.05,133.82 L133.05,124.03 L135.63,123.07 L135.63,123.07 L135.63,123.06 L135.64,123.06 L135.64,123.06 L135.65,123.06 L135.65,123.05 L135.65,123.05 L135.65,123.04 L135.66,123.04 L135.66,123.03 L139.48,107.21 L139.48,107.21 L139.48,107.20 L139.48,107.20 L139.48,107.19 L139.48,107.19 L139.48,107.18 L139.48,107.18 L139.47,107.17 L139.47,107.17 L139.47,107.17 L139.46,107.16 L139.46,107.16 L139.46,107.16 L139.45,107.16 L139.45,107.15 L139.44,107.15 L139.44,107.15 L139.20,107.11 L139.97,103.99 L156.49,107.05 L156.49,107.05 L156.50,107.05 L156.50,107.05 L156.51,107.05 L156.51,107.05 L156.52,107.05 L156.52,107.05 L156.53,107.04 L156.53,107.04 L156.53,107.04 L156.54,107.03 L156.54,107.03 L156.54,107.02 L156.55,107.02 L156.55,107.02 L157.01,105.10 L157.01,105.09 L157.01,105.09 L157.01,105.08 L157.01,105.08 L157.01,105.07 L157.01,105.07 L157.01,105.06 L157.00,105.06 L157.00,105.06 L157.00,105.05 L157.00,105.05 L156.99,105.05 L156.99,105.04 L156.98,105.04 L156.98,105.04 L156.98,105.04 L156.97,105.04 L140.40,102.02 L140.39,102.02 L140.39,102.02 L140.38,102.02 L140.38,102.02 L140.37,102.02 L140.37,102.02 L140.36,102.02 L140.36,102.02 L140.36,102.03 L140.35,102.03 L140.35,102.04 L140.35,102.04 L140.34,102.04 L140.34,102.05 L140.34,102.05 L139.89,103.87 L128.63,101.78 L128.62,101.78 L128.62,101.78 L128.61,101.78 L128.61,101.78 L128.60,101.78 L128.60,101.78 L128.59,101.78 L128.59,101.79 L128.59,101.79 L128.58,101.79 L128.58,101.80 L128.58,101.80 L128.57,101.81 L128.57,101.81 L128.57,101.82 L127.79,105.03 L111.27,102.02 L111.26,102.02 L111.26,102.02 L111.25,102.02 L111.25,102.02 L111.24,102.02 L111.24,102.02 L111.23,102.02 L111.23,102.02 L111.23,102.03 L111.22,102.03 L111.22,102.04 L111.22,102.04 L111.21,102.04 L111.21,102.05 L111.21,102.05 L110.76,103.87 L99.50,101.78 L99.49,101.78ZM109.49,109.04 L98.30,106.96 L98.74,105.14 L109.95,107.19ZM139.08,107.19 L138.62,109.04 L127.43,106.96 L127.87,105.14ZM215.17,105.07 L215.17,105.08 L215.17,105.08 L215.17,105.09 L215.17,105.09 L215.17,105.10 L215.17,105.10 L215.18,105.11 L215.18,105.11 L215.18,105.12 L215.18,105.12 L215.19,105.12 L215.19,105.13 L215.19,105.13 L215.20,105.13 L215.20,105.13 L215.21,105.13 L215.21,105.14 L226.52,107.20 L226.53,107.20 L226.53,107.20 L226.54,107.20 L226.54,107.20 L226.55,107.19 L226.55,107.19 L226.56,107.19 L226.56,107.19 L226.56,107.18 L226.57,107.18 L226.57,107.18 L226.57,107.17 L226.58,107.17 L226.58,107.16 L226.58,107.16 L227.36,103.99 L229.67,104.42 L229.68,104.42 L229.68,104.42 L229.69,104.42 L229.69,104.42 L229.70,104.41 L229.70,104.41 L229.71,104.41 L229.71,104.41 L229.71,104.41 L229.72,104.40 L229.72,104.40 L229.72,104.39 L229.73,104.39 L229.73,104.39 L229.73,104.38 L229.73,104.38 L229.73,104.37 L229.73,104.37 L229.73,104.36 L229.73,104.36 L229.73,104.35 L229.73,104.35 L229.73,104.34 L228.65,102.19 L228.65,102.19 L228.65,102.19 L228.64,102.18 L228.64,102.18 L228.64,102.17 L228.63,102.17 L228.63,102.17 L228.62,102.17 L228.62,102.17 L227.84,102.03 L228.08,101.07 L228.08,101.06 L228.08,101.06 L228.08,101.05 L228.08,101.05 L228.08,101.04 L228.07,101.04 L228.07,101.03 L228.04,100.98 L228.04,100.97 L228.04,100.97 L228.04,100.96 L226.04,98.96 L226.03,98.96 L223.03,96.46 L223.03,96.46 L223.02,96.46 L223.02,96.45 L223.02,96.45 L223.01,96.45 L223.01,96.45 L223.00,96.45 L223.00,96.45 L222.99,96.45 L222.99,96.45 L222.98,96.45 L222.98,96.46 L219.98,97.95 L216.99,98.95 L215.34,99.23 L215.34,99.23 L215.33,99.23 L215.33,99.23 L215.33,99.23 L215.32,99.23 L215.32,99.24 L215.31,99.24 L215.31,99.25 L215.31,99.25 L215.31,99.25 L215.30,99.26 L215.30,99.26 L214.73,101.59 L214.73,101.59 L214.73,101.60 L214.73,101.60 L214.73,101.61 L214.73,101.61 L214.73,101.62 L214.73,101.62 L214.74,101.63 L214.74,101.63 L214.74,101.63 L214.75,101.64 L214.75,101.64 L214.75,101.64 L214.76,101.64 L214.76,101.65 L214.77,101.65 L214.77,101.65 L215.95,101.87ZM216.07,101.79 L216.49,100.06 L227.72,102.10 L227.28,103.87ZM190.95,135.29 L190.95,135.29 L190.95,135.28 L190.94,135.28 L190.94,135.28 L190.94,135.27 L190.93,135.27 L190.93,135.26 L190.93,135.26 L190.92,135.26 L190.92,135.26 L190.91,135.26 L190.91,135.26 L180.74,133.45 L180.73,133.45 L180.73,133.45 L180.72,133.45 L180.72,133.45 L180.71,133.45 L180.71,133.45 L180.70,133.46 L180.70,133.46 L180.70,133.46 L180.69,133.47 L180.69,133.47 L180.69,133.47 L180.68,133.48 L180.68,133.48 L180.68,133.49 L180.09,135.85 L180.09,135.85 L180.09,135.86 L180.09,135.86 L180.09,135.87 L180.09,135.87 L180.09,135.88 L180.10,135.88 L180.10,135.88 L180.10,135.89 L180.10,135.89 L180.11,135.90 L180.11,135.90 L180.12,135.90 L180.12,135.90 L180.12,135.91 L180.13,135.91 L180.13,135.91 L190.31,137.76 L190.31,137.76 L190.32,137.76 L190.32,137.76 L190.33,137.76 L190.33,137.76 L190.34,137.76 L190.34,137.76 L190.35,137.75 L190.35,137.75 L190.36,137.75 L190.36,137.74 L190.36,137.74 L190.36,137.74 L190.37,137.73 L190.37,137.73 L190.95,135.32 L190.95,135.31 L190.95,135.31 L190.95,135.30 L190.95,135.30ZM236.93,135.61 L236.93,135.61 L236.93,135.62 L236.93,135.62 L236.94,135.63 L236.94,135.63 L236.94,135.63 L236.95,135.64 L236.95,135.64 L236.95,135.64 L236.96,135.64 L236.96,135.65 L236.97,135.65 L236.97,135.65 L238.34,135.90 L237.72,138.39 L220.04,135.26 L220.03,135.25 L220.03,135.25 L220.02,135.25 L220.02,135.26 L220.01,135.26 L220.01,135.26 L220.01,135.26 L220.00,135.26 L220.00,135.27 L219.99,135.27 L219.99,135.27 L219.99,135.28 L219.99,135.28 L219.98,135.29 L219.98,135.29 L219.40,137.70 L219.40,137.71 L219.40,137.71 L219.40,137.72 L219.40,137.72 L219.40,137.73 L219.40,137.73 L219.40,137.74 L219.41,137.74 L219.41,137.74 L219.41,137.75 L219.41,137.75 L219.42,137.75 L219.42,137.76 L219.43,137.76 L219.43,137.76 L219.43,137.76 L219.44,137.76 L237.07,140.98 L236.93,141.56 L236.93,141.57 L236.93,141.57 L236.93,141.58 L236.93,141.58 L236.93,141.59 L236.93,141.59 L236.93,141.60 L236.93,141.60 L236.94,141.60 L236.94,141.61 L236.94,141.61 L236.95,141.61 L236.95,141.62 L236.96,141.62 L236.96,141.62 L236.97,141.62 L236.97,141.62 L236.98,141.62 L236.98,141.62 L239.79,141.47 L239.79,141.47 L239.80,141.47 L239.80,141.47 L239.81,141.47 L239.81,141.46 L239.81,141.46 L239.82,141.46 L239.82,141.45 L239.82,141.45 L239.83,141.45 L239.83,141.44 L239.83,141.44 L239.83,141.43 L239.83,141.43 L239.83,141.42 L239.83,141.42 L239.83,141.41 L239.83,141.41 L239.83,141.40 L239.83,141.40 L239.83,141.40 L239.82,141.39 L239.82,141.39 L239.82,141.38 L239.81,141.38 L239.81,141.38 L239.81,141.38 L239.80,141.37 L239.80,141.37 L239.79,141.37 L237.20,140.90 L237.79,138.51 L247.00,140.14 L246.77,141.07 L246.77,141.07 L246.77,141.08 L246.77,141.08 L246.77,141.09 L246.77,141.09 L246.77,141.09 L246.77,141.10 L246.77,141.10 L246.78,141.11 L246.78,141.11 L246.78,141.11 L246.79,141.12 L246.79,141.12 L246.79,141.12 L246.80,141.12 L246.80,141.13 L246.81,141.13 L246.81,141.13 L246.82,141.13 L247.78,141.08 L247.78,141.08 L247.79,141.08 L247.79,141.08 L247.80,141.08 L247.80,141.08 L247.81,141.07 L247.81,141.07 L247.81,141.07 L247.82,141.06 L247.82,141.06 L247.82,141.05 L247.82,141.05 L247.83,141.05 L248.62,137.77 L250.04,138.03 L250.04,138.03 L250.05,138.03 L250.05,138.03 L250.06,138.03 L250.06,138.03 L250.06,138.03 L254.43,136.28 L254.43,136.28 L254.44,136.28 L254.44,136.27 L254.45,136.27 L254.45,136.27 L254.45,136.26 L254.45,136.26 L254.46,136.26 L254.46,136.25 L254.46,136.25 L254.46,136.24 L254.46,136.24 L254.46,136.23 L254.46,136.23 L254.46,136.22 L254.46,136.22 L254.45,136.21 L254.45,136.21 L254.45,136.20 L254.45,136.20 L254.44,136.20 L254.44,136.19 L254.43,136.19 L254.43,136.19 L254.42,136.19 L254.42,136.19 L249.22,135.26 L252.23,122.82 L252.23,122.81 L252.23,122.81 L252.23,122.80 L252.23,122.80 L252.23,122.79 L252.23,122.79 L252.23,122.78 L252.22,122.78 L252.22,122.78 L252.22,122.77 L252.21,122.77 L252.21,122.77 L252.21,122.76 L252.20,122.76 L252.20,122.76 L252.19,122.76 L252.19,122.76 L250.53,122.45 L247.04,117.97 L247.04,117.96 L245.04,115.96 L245.03,115.96 L245.03,115.96 L245.02,115.96 L245.02,115.95 L245.01,115.95 L245.01,115.95 L245.00,115.95 L245.00,115.95 L244.99,115.95 L244.99,115.95 L243.03,116.44 L242.13,114.43 L242.13,114.43 L242.13,114.42 L242.13,114.42 L242.12,114.41 L242.12,114.41 L242.12,114.41 L242.11,114.41 L242.11,114.40 L242.10,114.40 L242.10,114.40 L242.09,114.40 L242.09,114.40 L242.08,114.40 L242.08,114.40 L242.07,114.40 L242.07,114.41 L242.06,114.41 L242.06,114.41 L242.06,114.41 L242.05,114.42 L242.05,114.42 L242.05,114.43 L242.04,114.43 L242.04,114.43 L242.04,114.44 L236.93,135.59 L236.93,135.59 L236.93,135.60 L236.93,135.60ZM249.10,135.34 L248.54,137.66 L238.46,135.82 L239.03,133.56ZM266.67,133.10 L266.67,133.11 L266.67,133.11 L266.67,133.12 L266.67,133.12 L266.67,133.12 L266.68,133.13 L266.68,133.13 L266.69,133.13 L266.69,133.14 L266.69,133.14 L266.70,133.14 L266.70,133.14 L266.71,133.14 L266.71,133.14 L266.72,133.14 L266.72,133.14 L266.73,133.14 L266.73,133.14 L267.02,133.05 L267.02,133.05 L267.02,133.04 L267.03,133.04 L267.03,133.04 L267.04,133.03 L267.04,133.03 L267.04,133.03 L267.04,133.02 L268.04,131.02 L268.05,131.02 L268.05,131.01 L268.05,131.01 L268.05,131.00 L268.05,131.00 L268.05,130.99 L268.05,130.99 L268.05,130.98 L268.05,130.98 L268.04,130.98 L268.04,130.97 L268.04,130.97 L268.04,130.96 L268.03,130.96 L268.03,130.96 L267.36,130.51 L267.35,130.51 L267.35,130.51 L267.34,130.51 L267.34,130.50 L267.33,130.50 L267.33,130.50 L267.33,130.50 L267.32,130.50 L267.32,130.50 L267.31,130.51 L267.31,130.51 L267.30,130.51 L267.30,130.51 L267.29,130.52 L267.29,130.52 L267.29,130.52 L267.29,130.53 L267.28,130.53 L267.28,130.54 L267.28,130.54 L266.67,133.08 L266.67,133.09 L266.67,133.09 L266.67,133.10ZM233.84,153.96 L233.85,153.96 L233.85,153.97 L233.85,153.97 L233.85,153.98 L233.86,153.98 L233.86,153.98 L233.86,153.99 L233.87,153.99 L233.87,153.99 L233.95,154.03 L234.75,159.21 L234.75,159.21 L234.75,159.22 L234.75,159.22 L234.76,159.23 L234.76,159.23 L234.76,159.23 L234.77,159.24 L234.77,159.24 L234.77,159.24 L234.78,159.24 L234.78,159.25 L236.78,160.05 L236.79,160.05 L236.79,160.05 L236.80,160.05 L236.80,160.05 L236.80,160.05 L236.81,160.05 L236.81,160.05 L236.82,160.05 L239.42,159.05 L242.00,158.25 L242.52,158.34 L242.52,158.35 L242.53,158.35 L242.53,158.34 L242.54,158.34 L242.54,158.34 L242.54,158.34 L242.55,158.34 L242.55,158.34 L242.56,158.33 L242.56,158.33 L242.56,158.33 L242.57,158.32 L242.57,158.32 L242.57,158.31 L242.57,158.31 L245.11,148.13 L245.11,148.13 L245.11,148.12 L245.11,148.12 L245.11,148.11 L245.11,148.11 L245.11,148.10 L245.11,148.10 L244.54,146.98 L244.54,146.97 L244.54,146.97 L244.54,146.97 L244.53,146.96 L244.53,146.96 L244.53,146.96 L244.52,146.95 L244.52,146.95 L244.51,146.95 L244.51,146.95 L244.50,146.95 L236.06,146.45 L236.22,144.80 L236.22,144.80 L236.22,144.79 L236.22,144.79 L236.22,144.78 L236.22,144.78 L236.22,144.77 L236.22,144.77 L236.21,144.77 L236.21,144.76 L236.21,144.76 L236.20,144.76 L236.20,144.75 L236.19,144.75 L236.19,144.75 L236.18,144.75 L236.18,144.75 L236.18,144.75 L236.17,144.75 L236.17,144.75 L236.16,144.75 L236.16,144.75 L236.15,144.75 L236.15,144.75 L236.14,144.76 L236.14,144.76 L236.14,144.76 L236.13,144.77 L236.13,144.77 L236.13,144.78 L236.13,144.78 L236.13,144.78 L233.84,153.93 L233.84,153.94 L233.84,153.94 L233.84,153.95 L233.84,153.95Z" fill="#55ff00"/>
<path d="M207.94,140.98 L206.13,148.26 L206.13,148.26 L206.13,148.27 L206.13,148.27 L206.13,148.28 L206.13,148.28 L206.13,148.29 L206.13,148.29 L206.13,148.30 L206.14,148.30 L206.14,148.31 L206.14,148.31 L206.15,148.31 L206.15,148.32 L206.16,148.32 L206.16,148.32 L206.17,148.32 L206.17,148.32 L207.99,148.55 L210.98,149.05 L213.97,151.04 L213.98,151.04 L213.98,151.05 L213.99,151.05 L213.99,151.05 L214.00,151.05 L214.00,151.05 L214.01,151.05 L214.01,151.05 L214.02,151.05 L215.34,150.61 L215.34,150.60 L215.35,150.60 L215.35,150.60 L215.36,150.60 L215.36,150.59 L215.36,150.59 L215.37,150.59 L215.37,150.58 L215.37,150.58 L215.37,150.57 L217.35,142.64 L217.35,142.64 L217.35,142.63 L217.35,142.63 L217.35,142.63 L217.35,142.62 L217.35,142.62 L217.34,142.61 L217.34,142.61 L217.34,142.60 L217.34,142.60 L217.33,142.60 L217.33,142.59 L217.33,142.59 L217.32,142.59 L217.32,142.59 L217.31,142.58 L217.31,142.58 L208.07,140.90 L208.67,138.46 L208.68,138.46 L208.68,138.45 L208.68,138.45 L208.68,138.44 L208.67,138.44 L208.67,138.43 L208.67,138.43 L208.67,138.42 L208.67,138.42 L208.66,138.42 L208.66,138.41 L208.66,138.41 L208.65,138.41 L208.65,138.40 L208.64,138.40 L208.64,138.40 L208.63,138.40 L190.91,135.26 L190.90,135.25 L190.90,135.25 L190.89,135.25 L190.89,135.26 L190.88,135.26 L190.88,135.26 L190.88,135.26 L190.87,135.26 L190.87,135.27 L190.86,135.27 L190.86,135.27 L190.86,135.28 L190.86,135.28 L190.85,135.29 L190.85,135.29 L190.28,137.66 L180.15,135.81 L180.15,135.81 L180.14,135.81 L180.14,135.81 L180.13,135.81 L180.13,135.81 L180.12,135.81 L180.12,135.82 L180.11,135.82 L180.11,135.82 L180.11,135.83 L180.10,135.83 L180.10,135.83 L180.10,135.84 L180.09,135.84 L180.09,135.85 L179.46,138.39 L178.38,138.20 L178.38,138.20 L178.37,138.20 L178.37,138.20 L178.37,138.20 L178.36,138.20 L178.36,138.20 L178.35,138.21 L178.35,138.21 L178.34,138.21 L178.34,138.22 L178.34,138.22 L178.33,138.22 L178.33,138.23 L178.33,138.23 L178.33,138.24 L178.33,138.24 L178.33,138.25 L178.33,138.25 L178.33,138.26 L178.33,138.26 L178.33,138.27 L178.33,138.27 L178.33,138.27 L178.33,138.28 L178.34,138.28 L178.34,138.29 L178.34,138.29 L178.35,138.29 L179.35,138.96 L179.36,138.96 L179.36,138.97 L179.36,138.97 L179.37,138.97 L179.37,138.97 L179.38,138.97 L179.38,138.97 L179.39,138.97 L179.39,138.97 L179.40,138.97 L179.40,138.96 L179.41,138.96 L179.41,138.96 L179.41,138.96 L179.42,138.95 L179.42,138.95 L179.42,138.94 L179.42,138.94 L179.43,138.94 L179.43,138.93 L179.53,138.51 L188.74,140.14 L188.13,142.57 L182.63,141.57 L182.62,141.57 L182.62,141.57 L182.62,141.57 L182.61,141.57 L182.61,141.57 L182.60,141.57 L182.60,141.58 L182.59,141.58 L182.59,141.58 L182.59,141.59 L182.58,141.59 L182.58,141.59 L182.58,141.60 L182.57,141.60 L182.57,141.61 L182.57,141.61 L182.57,141.62 L182.57,141.62 L182.57,141.63 L182.57,141.63 L182.57,141.64 L182.57,141.64 L182.58,141.64 L182.58,141.65 L182.58,141.65 L182.59,141.66 L183.96,143.04 L183.97,143.04 L183.97,143.04 L183.98,143.04 L187.60,144.86 L187.61,144.86 L187.61,144.86 L187.62,144.86 L187.62,144.86 L187.63,144.86 L187.63,144.86 L187.64,144.86 L187.64,144.86 L187.65,144.86 L187.65,144.86 L187.65,144.85 L187.66,144.85 L187.66,144.85 L187.67,144.84 L187.67,144.84 L187.67,144.83 L187.67,144.83 L187.67,144.82 L188.21,142.69 L189.08,142.85 L189.09,142.85 L189.09,142.85 L189.10,142.85 L189.10,142.85 L189.11,142.85 L189.11,142.85 L189.12,142.84 L189.12,142.84 L189.12,142.84 L189.13,142.83 L189.13,142.83 L189.13,142.83 L189.14,142.82 L189.14,142.82 L189.14,142.81 L190.36,137.77Z" fill="#ffa500"/>
<path d="M188.16,142.68 L188.17,142.68 L188.17,142.68 L188.18,142.68 L188.18,142.68 L188.19,142.68 L188.19,142.68 L188.20,142.67 L188.20,142.67 L188.21,142.67 L188.21,142.66 L188.21,142.66 L188.21,142.65 L188.22,142.65 L188.22,142.64 L188.85,140.11 L188.85,140.11 L188.85,140.10 L188.85,140.10 L188.85,140.09 L188.85,140.09 L188.85,140.08 L188.85,140.08 L188.84,140.07 L188.84,140.07 L188.84,140.07 L188.83,140.06 L188.83,140.06 L188.83,140.06 L188.82,140.06 L188.82,140.05 L188.81,140.05 L188.81,140.05 L179.50,138.40 L179.50,138.40 L179.49,138.40 L179.49,138.40 L179.49,138.40 L179.48,138.40 L179.48,138.40 L179.47,138.41 L179.47,138.41 L179.46,138.41 L179.46,138.42 L179.46,138.42 L179.45,138.42 L179.45,138.43 L179.45,138.43 L179.45,138.44 L179.33,138.91 L179.33,138.91 L179.33,138.92 L179.33,138.92 L179.33,138.93 L179.33,138.93 L179.33,138.94 L179.33,138.94 L179.34,138.95 L179.34,138.95 L179.34,138.95 L179.35,138.96 L179.35,138.96 L180.97,140.04 L182.59,141.66 L182.59,141.66 L182.59,141.66 L182.60,141.67 L182.60,141.67 L182.61,141.67 L182.61,141.67 L188.16,142.68ZM217.29,142.68 L217.30,142.68 L217.30,142.68 L217.31,142.68 L217.31,142.68 L217.32,142.68 L217.32,142.68 L217.33,142.67 L217.33,142.67 L217.34,142.67 L217.34,142.66 L217.34,142.66 L217.34,142.65 L217.35,142.65 L217.35,142.64 L217.98,140.11 L217.98,140.11 L217.98,140.10 L217.98,140.10 L217.98,140.09 L217.98,140.09 L217.98,140.08 L217.98,140.08 L217.97,140.07 L217.97,140.07 L217.97,140.07 L217.96,140.06 L217.96,140.06 L217.96,140.06 L217.95,140.06 L217.95,140.05 L217.94,140.05 L217.94,140.05 L208.63,138.40 L208.63,138.40 L208.62,138.40 L208.62,138.40 L208.62,138.40 L208.61,138.40 L208.61,138.40 L208.60,138.41 L208.60,138.41 L208.59,138.41 L208.59,138.42 L208.59,138.42 L208.58,138.42 L208.58,138.43 L208.58,138.43 L208.58,138.44 L207.96,140.93 L207.96,140.93 L207.96,140.94 L207.96,140.94 L207.96,140.95 L207.96,140.95 L207.96,140.95 L207.96,140.96 L207.96,140.96 L207.97,140.97 L207.97,140.97 L207.97,140.97 L207.98,140.98 L207.98,140.98 L207.98,140.98 L207.99,140.98 L207.99,140.99 L208.00,140.99 L217.29,142.68Z" fill="#00e6a9"/>
<path d="M222.5,138.8 L226,139.4 L229,140.3 L232,140.9 L235.6,141.7 L236,143.6 L233,144 L230,143.4 L227,142.4 L224,141.4 L222.6,140.4 Z" fill="#fff"/>
<path d="M227,133 L228.2,135.5 L229.2,137.6" stroke="#fff" stroke-width="0.9" fill="none"/>
<polygon points="86.20,29.30 127.80,37.10 118.80,74.40 77.20,66.60" fill="none" stroke="#303030" stroke-width="0.75"/>
<polygon points="115.33,29.30 156.93,37.10 147.93,74.40 106.33,66.60" fill="none" stroke="#303030" stroke-width="0.75"/>
<polygon points="144.46,29.30 186.06,37.10 177.06,74.40 135.46,66.60" fill="none" stroke="#303030" stroke-width="0.75"/>
<polygon points="49.00,65.00 89.40,72.50 80.40,109.10 40.00,101.60" fill="none" stroke="#303030" stroke-width="0.75"/>
<polygon points="78.13,65.00 118.53,72.50 109.53,109.10 69.13,101.60" fill="none" stroke="#303030" stroke-width="0.75"/>
<polygon points="107.26,65.00 147.66,72.50 138.66,109.10 98.26,101.60" fill="none" stroke="#303030" stroke-width="0.75"/>
<polygon points="136.39,65.00 176.79,72.50 167.79,109.10 127.39,101.60" fill="none" stroke="#303030" stroke-width="0.75"/>
<polygon points="165.52,65.00 205.92,72.50 196.92,109.10 156.52,101.60" fill="none" stroke="#303030" stroke-width="0.75"/>
<polygon points="194.65,65.00 235.05,72.50 226.05,109.10 185.65,101.60" fill="none" stroke="#303030" stroke-width="0.75"/>
<polygon points="223.78,65.00 264.18,72.50 255.18,109.10 214.78,101.60" fill="none" stroke="#303030" stroke-width="0.75"/>
<polygon points="70.80,100.00 110.30,107.20 101.70,142.80 62.20,135.60" fill="none" stroke="#303030" stroke-width="0.75"/>
<polygon points="99.93,100.00 139.43,107.20 130.83,142.80 91.33,135.60" fill="none" stroke="#303030" stroke-width="0.75"/>
<polygon points="129.06,100.00 168.56,107.20 159.96,142.80 120.46,135.60" fill="none" stroke="#303030" stroke-width="0.75"/>
<polygon points="158.19,100.00 197.69,107.20 189.09,142.80 149.59,135.60" fill="none" stroke="#303030" stroke-width="0.75"/>
<polygon points="187.32,100.00 226.82,107.20 218.22,142.80 178.72,135.60" fill="none" stroke="#303030" stroke-width="0.75"/>
<polygon points="216.45,100.00 255.95,107.20 247.35,142.80 207.85,135.60" fill="none" stroke="#303030" stroke-width="0.75"/>
<polygon points="245.58,100.00 285.08,107.20 276.48,142.80 236.98,135.60" fill="none" stroke="#303030" stroke-width="0.75"/>
<polygon points="274.71,100.00 314.21,107.20 305.61,142.80 266.11,135.60" fill="none" stroke="#303030" stroke-width="0.75"/>
<polygon points="151.60,133.50 188.80,140.10 180.00,175.40 142.80,168.80" fill="none" stroke="#303030" stroke-width="0.75"/>
<polygon points="180.73,133.50 217.93,140.10 209.13,175.40 171.93,168.80" fill="none" stroke="#303030" stroke-width="0.75"/>
<polygon points="209.86,133.50 247.06,140.10 238.26,175.40 201.06,168.80" fill="none" stroke="#303030" stroke-width="0.75"/>
<polygon points="238.99,133.50 276.19,140.10 267.39,175.40 230.19,168.80" fill="none" stroke="#303030" stroke-width="0.75"/>
<text x="89.40" y="55.60" font-size="9.8" textLength="26.00" lengthAdjust="spacingAndGlyphs">137/32</text>
<text x="117.60" y="65.60" font-size="9.8" textLength="26.00" lengthAdjust="spacingAndGlyphs">136/32</text>
<text x="148.00" y="55.60" font-size="9.8" textLength="25.40" lengthAdjust="spacingAndGlyphs">135/32</text>
<text x="49.60" y="90.20" font-size="9.8" textLength="25.80" lengthAdjust="spacingAndGlyphs">138/33</text>
<text x="81.00" y="90.20" font-size="9.8" textLength="25.60" lengthAdjust="spacingAndGlyphs">137/33</text>
<text x="110.40" y="100.20" font-size="9.8" textLength="25.60" lengthAdjust="spacingAndGlyphs">136/33</text>
<text x="138.00" y="90.40" font-size="9.8" textLength="25.00" lengthAdjust="spacingAndGlyphs">135/33</text>
<text x="168.60" y="90.40" font-size="9.8" textLength="25.40" lengthAdjust="spacingAndGlyphs">134/33</text>
<text x="200.00" y="101.00" font-size="9.8" textLength="24.00" lengthAdjust="spacingAndGlyphs">133/33</text>
<text x="227.40" y="90.40" font-size="9.8" textLength="25.20" lengthAdjust="spacingAndGlyphs">132/33</text>
<text x="72.60" y="124.60" font-size="9.8" textLength="26.00" lengthAdjust="spacingAndGlyphs">137/34</text>
<text x="103.00" y="135.60" font-size="9.8" textLength="25.40" lengthAdjust="spacingAndGlyphs">136/34</text>
<text x="131.00" y="124.20" font-size="9.8" textLength="26.00" lengthAdjust="spacingAndGlyphs">135/34</text>
<text x="162.00" y="135.60" font-size="9.8" textLength="25.40" lengthAdjust="spacingAndGlyphs">134/34</text>
<text x="184.50" y="124.10" font-size="9.8" textLength="31.00" lengthAdjust="spacingAndGlyphs">133/034</text>
<text x="217.60" y="124.10" font-size="9.8" textLength="25.40" lengthAdjust="spacingAndGlyphs">132/34</text>
<text x="248.40" y="124.10" font-size="9.8" textLength="25.60" lengthAdjust="spacingAndGlyphs">131/34</text>
<text x="279.00" y="135.40" font-size="9.8" textLength="25.00" lengthAdjust="spacingAndGlyphs">130/34</text>
<text x="153.00" y="158.40" font-size="9.8" textLength="25.00" lengthAdjust="spacingAndGlyphs">134/35</text>
<text x="179.60" y="147.00" font-size="9.8" textLength="25.70" lengthAdjust="spacingAndGlyphs">133/35</text>
<text x="211.60" y="158.40" font-size="9.8" textLength="25.40" lengthAdjust="spacingAndGlyphs">132/35</text>
<text x="239.00" y="147.20" font-size="9.8" textLength="25.40" lengthAdjust="spacingAndGlyphs">131/35</text>
</g>
<rect x="29.2" y="14.5" width="296.6" height="200.8" fill="none" stroke="#3a3a3a" stroke-width="1.4"/>
<line x1="63.50" y1="14.5" x2="63.50" y2="11.7" stroke="#3a3a3a" stroke-width="1"/>
<line x1="63.50" y1="215.3" x2="63.50" y2="218.10000000000002" stroke="#3a3a3a" stroke-width="1"/>
<text x="63.50" y="9.2" font-size="11.8" text-anchor="middle" textLength="22.8" lengthAdjust="spacingAndGlyphs">93°E</text>
<text x="63.50" y="229.0" font-size="11.8" text-anchor="middle" textLength="22.8" lengthAdjust="spacingAndGlyphs">93°E</text>
<line x1="120.20" y1="14.5" x2="120.20" y2="11.7" stroke="#3a3a3a" stroke-width="1"/>
<line x1="120.20" y1="215.3" x2="120.20" y2="218.10000000000002" stroke="#3a3a3a" stroke-width="1"/>
<text x="120.20" y="9.2" font-size="11.8" text-anchor="middle" textLength="22.8" lengthAdjust="spacingAndGlyphs">96°E</text>
<text x="120.20" y="229.0" font-size="11.8" text-anchor="middle" textLength="22.8" lengthAdjust="spacingAndGlyphs">96°E</text>
<line x1="176.90" y1="14.5" x2="176.90" y2="11.7" stroke="#3a3a3a" stroke-width="1"/>
<line x1="176.90" y1="215.3" x2="176.90" y2="218.10000000000002" stroke="#3a3a3a" stroke-width="1"/>
<text x="176.90" y="9.2" font-size="11.8" text-anchor="middle" textLength="22.8" lengthAdjust="spacingAndGlyphs">99°E</text>
<text x="176.90" y="229.0" font-size="11.8" text-anchor="middle" textLength="22.8" lengthAdjust="spacingAndGlyphs">99°E</text>
<line x1="233.60" y1="14.5" x2="233.60" y2="11.7" stroke="#3a3a3a" stroke-width="1"/>
<line x1="233.60" y1="215.3" x2="233.60" y2="218.10000000000002" stroke="#3a3a3a" stroke-width="1"/>
<text x="233.60" y="9.2" font-size="11.8" text-anchor="middle" textLength="27.6" lengthAdjust="spacingAndGlyphs">102°E</text>
<text x="233.60" y="229.0" font-size="11.8" text-anchor="middle" textLength="27.6" lengthAdjust="spacingAndGlyphs">102°E</text>
<line x1="290.30" y1="14.5" x2="290.30" y2="11.7" stroke="#3a3a3a" stroke-width="1"/>
<line x1="290.30" y1="215.3" x2="290.30" y2="218.10000000000002" stroke="#3a3a3a" stroke-width="1"/>
<text x="290.30" y="9.2" font-size="11.8" text-anchor="middle" textLength="27.6" lengthAdjust="spacingAndGlyphs">105°E</text>
<text x="290.30" y="229.0" font-size="11.8" text-anchor="middle" textLength="27.6" lengthAdjust="spacingAndGlyphs">105°E</text>
<line x1="26.4" y1="201.80" x2="29.2" y2="201.80" stroke="#3a3a3a" stroke-width="1"/>
<line x1="325.8" y1="201.80" x2="328.6" y2="201.80" stroke="#3a3a3a" stroke-width="1"/>
<text transform="translate(23.6,201.80) rotate(-90)" font-size="11.8" text-anchor="middle" textLength="23.5" lengthAdjust="spacingAndGlyphs">34°N</text>
<text transform="translate(339.4,201.80) rotate(-90)" font-size="11.8" text-anchor="middle" textLength="23.5" lengthAdjust="spacingAndGlyphs">34°N</text>
<line x1="26.4" y1="155.87" x2="29.2" y2="155.87" stroke="#3a3a3a" stroke-width="1"/>
<line x1="325.8" y1="155.87" x2="328.6" y2="155.87" stroke="#3a3a3a" stroke-width="1"/>
<text transform="translate(23.6,155.87) rotate(-90)" font-size="11.8" text-anchor="middle" textLength="23.5" lengthAdjust="spacingAndGlyphs">36°N</text>
<text transform="translate(339.4,155.87) rotate(-90)" font-size="11.8" text-anchor="middle" textLength="23.5" lengthAdjust="spacingAndGlyphs">36°N</text>
<line x1="26.4" y1="108.76" x2="29.2" y2="108.76" stroke="#3a3a3a" stroke-width="1"/>
<line x1="325.8" y1="108.76" x2="328.6" y2="108.76" stroke="#3a3a3a" stroke-width="1"/>
<text transform="translate(23.6,108.76) rotate(-90)" font-size="11.8" text-anchor="middle" textLength="23.5" lengthAdjust="spacingAndGlyphs">38°N</text>
<text transform="translate(339.4,108.76) rotate(-90)" font-size="11.8" text-anchor="middle" textLength="23.5" lengthAdjust="spacingAndGlyphs">38°N</text>
<line x1="26.4" y1="60.35" x2="29.2" y2="60.35" stroke="#3a3a3a" stroke-width="1"/>
<line x1="325.8" y1="60.35" x2="328.6" y2="60.35" stroke="#3a3a3a" stroke-width="1"/>
<text transform="translate(23.6,60.35) rotate(-90)" font-size="11.8" text-anchor="middle" textLength="23.5" lengthAdjust="spacingAndGlyphs">40°N</text>
<text transform="translate(339.4,60.35) rotate(-90)" font-size="11.8" text-anchor="middle" textLength="23.5" lengthAdjust="spacingAndGlyphs">40°N</text>
<text x="36" y="28.9" font-size="12.5" textLength="14" lengthAdjust="spacingAndGlyphs">(a)</text>
<text x="307.35" y="29.3" font-size="9.2" text-anchor="middle" font-family="Liberation Sans, sans-serif" textLength="6.1" lengthAdjust="spacingAndGlyphs">N</text>
<path d="M307.3,31.9 L300.2,54.4 L307.3,46.2 Z" fill="#000" stroke="#000" stroke-width="0.6" stroke-linejoin="round"/>
<path d="M307.3,31.9 L313.9,54.0 L307.3,46.2 Z" fill="#fff" stroke="#000" stroke-width="0.8" stroke-linejoin="round"/>
<text x="40" y="176" font-size="12" textLength="57" lengthAdjust="spacingAndGlyphs">Image count</text>
<rect x="39.6" y="182.4" width="13.6" height="6.7" fill="#ff0000"/>
<text x="55.6" y="190.00" font-size="12" textLength="49.4" lengthAdjust="spacingAndGlyphs">869 - 1054</text>
<rect x="39.6" y="193.4" width="13.6" height="6.7" fill="#ffa500"/>
<text x="55.6" y="201.00" font-size="12" textLength="55.0" lengthAdjust="spacingAndGlyphs">1055 - 1923</text>
<rect x="39.6" y="204.4" width="13.6" height="6.7" fill="#ffff00"/>
<text x="55.6" y="212.00" font-size="12" textLength="55.0" lengthAdjust="spacingAndGlyphs">1924 - 2049</text>
<rect x="113.8" y="182.6" width="13.6" height="6.7" fill="#55ff00"/>
<text x="130.0" y="190.20" font-size="12" textLength="55.0" lengthAdjust="spacingAndGlyphs">2050 - 2101</text>
<rect x="113.8" y="193.4" width="13.6" height="6.7" fill="#00e6a9"/>
<text x="130.0" y="201.00" font-size="12" textLength="55.0" lengthAdjust="spacingAndGlyphs">2102 - 2918</text>
<rect x="113.8" y="204.3" width="13.6" height="6.7" fill="#0026ff"/>
<text x="130.0" y="211.90" font-size="12" textLength="55.0" lengthAdjust="spacingAndGlyphs">2919 - 3126</text>
<rect x="247.9" y="194.0" width="26" height="3.4" fill="#000" stroke="#000" stroke-width="0.5"/>
<rect x="273.9" y="194.0" width="25.7" height="3.4" fill="#fff" stroke="#222" stroke-width="0.6"/>
<text x="302.5" y="197.3" font-size="10.8" textLength="13.6" lengthAdjust="spacingAndGlyphs">km</text>
<text x="248.5" y="209.8" font-size="10.8" text-anchor="middle" textLength="5.3" lengthAdjust="spacingAndGlyphs">0</text>
<text x="273.9" y="209.8" font-size="10.8" text-anchor="middle" textLength="15.2" lengthAdjust="spacingAndGlyphs">150</text>
<text x="299.1" y="209.8" font-size="10.8" text-anchor="middle" textLength="16.7" lengthAdjust="spacingAndGlyphs">300</text>
<rect x="403.49" y="155.11" width="6.05" height="56.19" fill="#0c9bff" stroke="#505050" stroke-width="0.85"/>
<rect x="411.25" y="150.43" width="6.05" height="60.87" fill="#0c9bff" stroke="#505050" stroke-width="0.85"/>
<rect x="419.01" y="129.71" width="6.05" height="81.59" fill="#0c9bff" stroke="#505050" stroke-width="0.85"/>
<rect x="426.78" y="141.96" width="6.05" height="69.34" fill="#0c9bff" stroke="#505050" stroke-width="0.85"/>
<rect x="434.54" y="131.52" width="6.05" height="79.78" fill="#0c9bff" stroke="#505050" stroke-width="0.85"/>
<rect x="442.30" y="127.19" width="6.05" height="84.11" fill="#0c9bff" stroke="#505050" stroke-width="0.85"/>
<rect x="450.06" y="137.46" width="6.05" height="73.84" fill="#0c9bff" stroke="#505050" stroke-width="0.85"/>
<rect x="457.83" y="141.42" width="6.05" height="69.88" fill="#0c9bff" stroke="#505050" stroke-width="0.85"/>
<rect x="465.59" y="138.00" width="6.05" height="73.30" fill="#0c9bff" stroke="#505050" stroke-width="0.85"/>
<rect x="473.35" y="138.90" width="6.05" height="72.40" fill="#0c9bff" stroke="#505050" stroke-width="0.85"/>
<rect x="481.12" y="130.98" width="6.05" height="80.32" fill="#0c9bff" stroke="#505050" stroke-width="0.85"/>
<rect x="488.88" y="136.92" width="6.05" height="74.38" fill="#0c9bff" stroke="#505050" stroke-width="0.85"/>
<rect x="496.64" y="144.30" width="6.05" height="67.00" fill="#0c9bff" stroke="#505050" stroke-width="0.85"/>
<rect x="496.64" y="130.25" width="6.05" height="14.05" fill="#ff8000" stroke="#505050" stroke-width="0.85"/>
<rect x="504.41" y="131.52" width="6.05" height="79.78" fill="#0c9bff" stroke="#505050" stroke-width="0.85"/>
<rect x="504.41" y="90.63" width="6.05" height="40.88" fill="#ff8000" stroke="#505050" stroke-width="0.85"/>
<rect x="512.17" y="127.55" width="6.05" height="83.75" fill="#0c9bff" stroke="#505050" stroke-width="0.85"/>
<rect x="512.17" y="73.34" width="6.05" height="54.21" fill="#ff8000" stroke="#505050" stroke-width="0.85"/>
<rect x="519.93" y="141.24" width="6.05" height="70.06" fill="#0c9bff" stroke="#505050" stroke-width="0.85"/>
<rect x="519.93" y="87.39" width="6.05" height="53.85" fill="#ff8000" stroke="#505050" stroke-width="0.85"/>
<rect x="527.69" y="132.42" width="6.05" height="78.88" fill="#0c9bff" stroke="#505050" stroke-width="0.85"/>
<rect x="527.69" y="86.49" width="6.05" height="45.93" fill="#ff8000" stroke="#505050" stroke-width="0.85"/>
<rect x="535.46" y="124.31" width="6.05" height="86.99" fill="#0c9bff" stroke="#505050" stroke-width="0.85"/>
<rect x="535.46" y="57.49" width="6.05" height="66.82" fill="#ff8000" stroke="#505050" stroke-width="0.85"/>
<rect x="543.22" y="134.94" width="6.05" height="76.36" fill="#0c9bff" stroke="#505050" stroke-width="0.85"/>
<rect x="543.22" y="71.36" width="6.05" height="63.58" fill="#ff8000" stroke="#505050" stroke-width="0.85"/>
<rect x="550.98" y="134.94" width="6.05" height="76.36" fill="#0c9bff" stroke="#505050" stroke-width="0.85"/>
<rect x="550.98" y="76.41" width="6.05" height="58.53" fill="#ff8000" stroke="#505050" stroke-width="0.85"/>
<rect x="558.75" y="145.38" width="6.05" height="65.92" fill="#0c9bff" stroke="#505050" stroke-width="0.85"/>
<rect x="558.75" y="89.19" width="6.05" height="56.19" fill="#ff8000" stroke="#505050" stroke-width="0.85"/>
<rect x="566.51" y="144.48" width="6.05" height="66.82" fill="#0c9bff" stroke="#505050" stroke-width="0.85"/>
<rect x="566.51" y="88.65" width="6.05" height="55.83" fill="#ff8000" stroke="#505050" stroke-width="0.85"/>
<rect x="574.27" y="130.98" width="6.05" height="80.32" fill="#0c9bff" stroke="#505050" stroke-width="0.85"/>
<rect x="574.27" y="74.42" width="6.05" height="56.55" fill="#ff8000" stroke="#505050" stroke-width="0.85"/>
<rect x="582.03" y="138.36" width="6.05" height="72.94" fill="#0c9bff" stroke="#505050" stroke-width="0.85"/>
<rect x="582.03" y="81.45" width="6.05" height="56.91" fill="#ff8000" stroke="#505050" stroke-width="0.85"/>
<rect x="589.80" y="147.18" width="6.05" height="64.12" fill="#0c9bff" stroke="#505050" stroke-width="0.85"/>
<rect x="589.80" y="84.33" width="6.05" height="62.85" fill="#ff8000" stroke="#505050" stroke-width="0.85"/>
<rect x="597.56" y="134.40" width="6.05" height="76.90" fill="#ff8000" stroke="#505050" stroke-width="0.85"/>
<rect x="605.32" y="140.34" width="6.05" height="70.96" fill="#ff8000" stroke="#505050" stroke-width="0.85"/>
<rect x="605.32" y="77.13" width="6.05" height="63.22" fill="#00cc00" stroke="#505050" stroke-width="0.85"/>
<rect x="613.09" y="122.15" width="6.05" height="89.15" fill="#ff8000" stroke="#505050" stroke-width="0.85"/>
<rect x="613.09" y="33.36" width="6.05" height="88.79" fill="#00cc00" stroke="#505050" stroke-width="0.85"/>
<rect x="620.85" y="122.15" width="6.05" height="89.15" fill="#ff8000" stroke="#505050" stroke-width="0.85"/>
<rect x="620.85" y="32.46" width="6.05" height="89.69" fill="#00cc00" stroke="#505050" stroke-width="0.85"/>
<rect x="628.61" y="120.71" width="6.05" height="90.59" fill="#ff8000" stroke="#505050" stroke-width="0.85"/>
<rect x="628.61" y="30.66" width="6.05" height="90.05" fill="#00cc00" stroke="#505050" stroke-width="0.85"/>
<rect x="636.38" y="121.43" width="6.05" height="89.87" fill="#ff8000" stroke="#505050" stroke-width="0.85"/>
<rect x="636.38" y="30.66" width="6.05" height="90.77" fill="#00cc00" stroke="#505050" stroke-width="0.85"/>
<rect x="644.14" y="121.43" width="6.05" height="89.87" fill="#ff8000" stroke="#505050" stroke-width="0.85"/>
<rect x="644.14" y="30.66" width="6.05" height="90.77" fill="#00cc00" stroke="#505050" stroke-width="0.85"/>
<rect x="651.90" y="121.43" width="6.05" height="89.87" fill="#ff8000" stroke="#505050" stroke-width="0.85"/>
<rect x="651.90" y="31.56" width="6.05" height="89.87" fill="#00cc00" stroke="#505050" stroke-width="0.85"/>
<rect x="659.67" y="121.43" width="6.05" height="89.87" fill="#ff8000" stroke="#505050" stroke-width="0.85"/>
<rect x="659.67" y="32.46" width="6.05" height="88.97" fill="#00cc00" stroke="#505050" stroke-width="0.85"/>
<rect x="394.6" y="13.0" width="279.79999999999995" height="198.3" fill="none" stroke="#2a2a2a" stroke-width="1.25"/>
<line x1="391.10" y1="211.30" x2="394.60" y2="211.30" stroke="#2a2a2a" stroke-width="1.1"/>
<text x="388.00" y="215.20" font-size="12" text-anchor="end" textLength="5.6" lengthAdjust="spacingAndGlyphs">0</text>
<line x1="391.10" y1="175.28" x2="394.60" y2="175.28" stroke="#2a2a2a" stroke-width="1.1"/>
<text x="388.00" y="179.18" font-size="12" text-anchor="end" textLength="17.4" lengthAdjust="spacingAndGlyphs">200</text>
<line x1="391.10" y1="139.26" x2="394.60" y2="139.26" stroke="#2a2a2a" stroke-width="1.1"/>
<text x="388.00" y="143.16" font-size="12" text-anchor="end" textLength="17.4" lengthAdjust="spacingAndGlyphs">400</text>
<line x1="391.10" y1="103.24" x2="394.60" y2="103.24" stroke="#2a2a2a" stroke-width="1.1"/>
<text x="388.00" y="107.14" font-size="12" text-anchor="end" textLength="17.4" lengthAdjust="spacingAndGlyphs">600</text>
<line x1="391.10" y1="67.22" x2="394.60" y2="67.22" stroke="#2a2a2a" stroke-width="1.1"/>
<text x="388.00" y="71.12" font-size="12" text-anchor="end" textLength="17.4" lengthAdjust="spacingAndGlyphs">800</text>
<line x1="391.10" y1="31.20" x2="394.60" y2="31.20" stroke="#2a2a2a" stroke-width="1.1"/>
<text x="388.00" y="35.10" font-size="12" text-anchor="end" textLength="22" lengthAdjust="spacingAndGlyphs">1000</text>
<line x1="392.40" y1="193.29" x2="394.60" y2="193.29" stroke="#2a2a2a" stroke-width="1.0"/>
<line x1="392.40" y1="157.27" x2="394.60" y2="157.27" stroke="#2a2a2a" stroke-width="1.0"/>
<line x1="392.40" y1="121.25" x2="394.60" y2="121.25" stroke="#2a2a2a" stroke-width="1.0"/>
<line x1="392.40" y1="85.23" x2="394.60" y2="85.23" stroke="#2a2a2a" stroke-width="1.0"/>
<line x1="392.40" y1="49.21" x2="394.60" y2="49.21" stroke="#2a2a2a" stroke-width="1.0"/>
<line x1="429.80" y1="211.30" x2="429.80" y2="214.60" stroke="#2a2a2a" stroke-width="1.1"/>
<text x="429.80" y="227.40" font-size="12" text-anchor="middle" textLength="23" lengthAdjust="spacingAndGlyphs">1990</text>
<line x1="468.62" y1="211.30" x2="468.62" y2="214.60" stroke="#2a2a2a" stroke-width="1.1"/>
<text x="468.62" y="227.40" font-size="12" text-anchor="middle" textLength="23" lengthAdjust="spacingAndGlyphs">1995</text>
<line x1="507.43" y1="211.30" x2="507.43" y2="214.60" stroke="#2a2a2a" stroke-width="1.1"/>
<text x="507.43" y="227.40" font-size="12" text-anchor="middle" textLength="23" lengthAdjust="spacingAndGlyphs">2000</text>
<line x1="546.25" y1="211.30" x2="546.25" y2="214.60" stroke="#2a2a2a" stroke-width="1.1"/>
<text x="546.25" y="227.40" font-size="12" text-anchor="middle" textLength="23" lengthAdjust="spacingAndGlyphs">2005</text>
<line x1="585.06" y1="211.30" x2="585.06" y2="214.60" stroke="#2a2a2a" stroke-width="1.1"/>
<text x="585.06" y="227.40" font-size="12" text-anchor="middle" textLength="23" lengthAdjust="spacingAndGlyphs">2010</text>
<line x1="623.88" y1="211.30" x2="623.88" y2="214.60" stroke="#2a2a2a" stroke-width="1.1"/>
<text x="623.88" y="227.40" font-size="12" text-anchor="middle" textLength="23" lengthAdjust="spacingAndGlyphs">2015</text>
<line x1="662.69" y1="211.30" x2="662.69" y2="214.60" stroke="#2a2a2a" stroke-width="1.1"/>
<text x="662.69" y="227.40" font-size="12" text-anchor="middle" textLength="23" lengthAdjust="spacingAndGlyphs">2020</text>
<line x1="410.39" y1="211.30" x2="410.39" y2="213.50" stroke="#2a2a2a" stroke-width="1.0"/>
<line x1="449.21" y1="211.30" x2="449.21" y2="213.50" stroke="#2a2a2a" stroke-width="1.0"/>
<line x1="488.02" y1="211.30" x2="488.02" y2="213.50" stroke="#2a2a2a" stroke-width="1.0"/>
<line x1="526.84" y1="211.30" x2="526.84" y2="213.50" stroke="#2a2a2a" stroke-width="1.0"/>
<line x1="565.65" y1="211.30" x2="565.65" y2="213.50" stroke="#2a2a2a" stroke-width="1.0"/>
<line x1="604.47" y1="211.30" x2="604.47" y2="213.50" stroke="#2a2a2a" stroke-width="1.0"/>
<line x1="643.28" y1="211.30" x2="643.28" y2="213.50" stroke="#2a2a2a" stroke-width="1.0"/>
<text transform="translate(360.4,112.0) rotate(-90)" font-size="12" text-anchor="middle" textLength="113" lengthAdjust="spacingAndGlyphs">Landsat images number</text>
<text x="403.00" y="27.70" font-size="12" textLength="14.4" lengthAdjust="spacingAndGlyphs">(b)</text>
<rect x="425.00" y="18.00" width="27.00" height="13.40" fill="#0c9bff" stroke="#3a3a3a" stroke-width="0.8"/>
<text x="455.60" y="28.40" font-size="12" textLength="46.4" lengthAdjust="spacingAndGlyphs">Landsat 5</text>
<rect x="508.00" y="18.00" width="27.60" height="13.40" fill="#ff8000" stroke="#3a3a3a" stroke-width="0.8"/>
<text x="539.00" y="28.40" font-size="12" textLength="46.0" lengthAdjust="spacingAndGlyphs">Landsat 7</text>
<rect x="591.60" y="18.00" width="26.80" height="13.40" fill="#00cc00" stroke="#3a3a3a" stroke-width="0.8"/>
<text x="622.20" y="28.40" font-size="12" textLength="46.3" lengthAdjust="spacingAndGlyphs">Landsat 8</text>
<rect x="47.53" y="392.23" width="6.15" height="52.07" fill="#0c9bff" stroke="#505050" stroke-width="0.85"/>
<rect x="55.49" y="378.70" width="6.15" height="65.60" fill="#0c9bff" stroke="#505050" stroke-width="0.85"/>
<rect x="63.46" y="372.96" width="6.15" height="71.34" fill="#0c9bff" stroke="#505050" stroke-width="0.85"/>
<rect x="71.42" y="378.70" width="6.15" height="65.60" fill="#0c9bff" stroke="#505050" stroke-width="0.85"/>
<rect x="79.39" y="370.50" width="6.15" height="73.80" fill="#0c9bff" stroke="#505050" stroke-width="0.85"/>
<rect x="87.36" y="359.43" width="6.15" height="84.87" fill="#0c9bff" stroke="#505050" stroke-width="0.85"/>
<rect x="95.32" y="376.24" width="6.15" height="68.06" fill="#0c9bff" stroke="#505050" stroke-width="0.85"/>
<rect x="103.28" y="384.03" width="6.15" height="60.27" fill="#0c9bff" stroke="#505050" stroke-width="0.85"/>
<rect x="111.25" y="372.14" width="6.15" height="72.16" fill="#0c9bff" stroke="#505050" stroke-width="0.85"/>
<rect x="119.21" y="384.03" width="6.15" height="60.27" fill="#0c9bff" stroke="#505050" stroke-width="0.85"/>
<rect x="127.18" y="361.48" width="6.15" height="82.82" fill="#0c9bff" stroke="#505050" stroke-width="0.85"/>
<rect x="135.15" y="381.98" width="6.15" height="62.32" fill="#0c9bff" stroke="#505050" stroke-width="0.85"/>
<rect x="143.11" y="384.44" width="6.15" height="59.86" fill="#0c9bff" stroke="#505050" stroke-width="0.85"/>
<rect x="143.11" y="363.53" width="6.15" height="20.91" fill="#ff8000" stroke="#505050" stroke-width="0.85"/>
<rect x="151.08" y="369.68" width="6.15" height="74.62" fill="#0c9bff" stroke="#505050" stroke-width="0.85"/>
<rect x="151.08" y="318.43" width="6.15" height="51.25" fill="#ff8000" stroke="#505050" stroke-width="0.85"/>
<rect x="159.04" y="361.48" width="6.15" height="82.82" fill="#0c9bff" stroke="#505050" stroke-width="0.85"/>
<rect x="159.04" y="303.26" width="6.15" height="58.22" fill="#ff8000" stroke="#505050" stroke-width="0.85"/>
<rect x="167.00" y="373.37" width="6.15" height="70.93" fill="#0c9bff" stroke="#505050" stroke-width="0.85"/>
<rect x="167.00" y="311.46" width="6.15" height="61.91" fill="#ff8000" stroke="#505050" stroke-width="0.85"/>
<rect x="174.97" y="386.08" width="6.15" height="58.22" fill="#0c9bff" stroke="#505050" stroke-width="0.85"/>
<rect x="174.97" y="333.60" width="6.15" height="52.48" fill="#ff8000" stroke="#505050" stroke-width="0.85"/>
<rect x="182.94" y="368.45" width="6.15" height="75.85" fill="#0c9bff" stroke="#505050" stroke-width="0.85"/>
<rect x="182.94" y="289.32" width="6.15" height="79.13" fill="#ff8000" stroke="#505050" stroke-width="0.85"/>
<rect x="190.90" y="388.13" width="6.15" height="56.17" fill="#0c9bff" stroke="#505050" stroke-width="0.85"/>
<rect x="190.90" y="313.51" width="6.15" height="74.62" fill="#ff8000" stroke="#505050" stroke-width="0.85"/>
<rect x="198.87" y="388.13" width="6.15" height="56.17" fill="#0c9bff" stroke="#505050" stroke-width="0.85"/>
<rect x="198.87" y="315.15" width="6.15" height="72.98" fill="#ff8000" stroke="#505050" stroke-width="0.85"/>
<rect x="206.83" y="393.46" width="6.15" height="50.84" fill="#0c9bff" stroke="#505050" stroke-width="0.85"/>
<rect x="206.83" y="316.38" width="6.15" height="77.08" fill="#ff8000" stroke="#505050" stroke-width="0.85"/>
<rect x="214.80" y="386.08" width="6.15" height="58.22" fill="#0c9bff" stroke="#505050" stroke-width="0.85"/>
<rect x="214.80" y="303.26" width="6.15" height="82.82" fill="#ff8000" stroke="#505050" stroke-width="0.85"/>
<rect x="222.76" y="379.52" width="6.15" height="64.78" fill="#0c9bff" stroke="#505050" stroke-width="0.85"/>
<rect x="222.76" y="307.77" width="6.15" height="71.75" fill="#ff8000" stroke="#505050" stroke-width="0.85"/>
<rect x="230.73" y="372.14" width="6.15" height="72.16" fill="#0c9bff" stroke="#505050" stroke-width="0.85"/>
<rect x="230.73" y="304.49" width="6.15" height="67.65" fill="#ff8000" stroke="#505050" stroke-width="0.85"/>
<rect x="238.69" y="386.49" width="6.15" height="57.81" fill="#0c9bff" stroke="#505050" stroke-width="0.85"/>
<rect x="238.69" y="317.61" width="6.15" height="68.88" fill="#ff8000" stroke="#505050" stroke-width="0.85"/>
<rect x="246.66" y="371.73" width="6.15" height="72.57" fill="#ff8000" stroke="#505050" stroke-width="0.85"/>
<rect x="254.62" y="353.28" width="6.15" height="91.02" fill="#ff8000" stroke="#505050" stroke-width="0.85"/>
<rect x="254.62" y="288.50" width="6.15" height="64.78" fill="#00cc00" stroke="#505050" stroke-width="0.85"/>
<rect x="262.58" y="365.58" width="6.15" height="78.72" fill="#ff8000" stroke="#505050" stroke-width="0.85"/>
<rect x="262.58" y="287.27" width="6.15" height="78.31" fill="#00cc00" stroke="#505050" stroke-width="0.85"/>
<rect x="270.55" y="363.53" width="6.15" height="80.77" fill="#ff8000" stroke="#505050" stroke-width="0.85"/>
<rect x="270.55" y="282.35" width="6.15" height="81.18" fill="#00cc00" stroke="#505050" stroke-width="0.85"/>
<rect x="278.52" y="363.53" width="6.15" height="80.77" fill="#ff8000" stroke="#505050" stroke-width="0.85"/>
<rect x="278.52" y="288.50" width="6.15" height="75.03" fill="#00cc00" stroke="#505050" stroke-width="0.85"/>
<rect x="286.48" y="368.45" width="6.15" height="75.85" fill="#ff8000" stroke="#505050" stroke-width="0.85"/>
<rect x="286.48" y="299.57" width="6.15" height="68.88" fill="#00cc00" stroke="#505050" stroke-width="0.85"/>
<rect x="294.44" y="378.70" width="6.15" height="65.60" fill="#ff8000" stroke="#505050" stroke-width="0.85"/>
<rect x="294.44" y="303.67" width="6.15" height="75.03" fill="#00cc00" stroke="#505050" stroke-width="0.85"/>
<rect x="302.41" y="368.45" width="6.15" height="75.85" fill="#ff8000" stroke="#505050" stroke-width="0.85"/>
<rect x="302.41" y="294.65" width="6.15" height="73.80" fill="#00cc00" stroke="#505050" stroke-width="0.85"/>
<rect x="310.38" y="362.30" width="6.15" height="82.00" fill="#ff8000" stroke="#505050" stroke-width="0.85"/>
<rect x="310.38" y="286.04" width="6.15" height="76.26" fill="#00cc00" stroke="#505050" stroke-width="0.85"/>
<rect x="39.2" y="239.5" width="286.6" height="204.8" fill="none" stroke="#2a2a2a" stroke-width="1.25"/>
<line x1="35.70" y1="444.30" x2="39.20" y2="444.30" stroke="#2a2a2a" stroke-width="1.1"/>
<text x="32.40" y="448.20" font-size="12" text-anchor="end" textLength="5.6" lengthAdjust="spacingAndGlyphs">0</text>
<line x1="35.70" y1="395.10" x2="39.20" y2="395.10" stroke="#2a2a2a" stroke-width="1.1"/>
<text x="32.40" y="399.00" font-size="12" text-anchor="end" textLength="17.4" lengthAdjust="spacingAndGlyphs">120</text>
<line x1="35.70" y1="345.90" x2="39.20" y2="345.90" stroke="#2a2a2a" stroke-width="1.1"/>
<text x="32.40" y="349.80" font-size="12" text-anchor="end" textLength="17.4" lengthAdjust="spacingAndGlyphs">240</text>
<line x1="35.70" y1="296.70" x2="39.20" y2="296.70" stroke="#2a2a2a" stroke-width="1.1"/>
<text x="32.40" y="300.60" font-size="12" text-anchor="end" textLength="17.4" lengthAdjust="spacingAndGlyphs">360</text>
<line x1="35.70" y1="247.50" x2="39.20" y2="247.50" stroke="#2a2a2a" stroke-width="1.1"/>
<text x="32.40" y="251.40" font-size="12" text-anchor="end" textLength="17.4" lengthAdjust="spacingAndGlyphs">480</text>
<line x1="37.00" y1="419.70" x2="39.20" y2="419.70" stroke="#2a2a2a" stroke-width="1.0"/>
<line x1="37.00" y1="370.50" x2="39.20" y2="370.50" stroke="#2a2a2a" stroke-width="1.0"/>
<line x1="37.00" y1="321.30" x2="39.20" y2="321.30" stroke="#2a2a2a" stroke-width="1.0"/>
<line x1="37.00" y1="272.10" x2="39.20" y2="272.10" stroke="#2a2a2a" stroke-width="1.0"/>
<line x1="74.50" y1="444.30" x2="74.50" y2="447.60" stroke="#2a2a2a" stroke-width="1.1"/>
<text x="74.50" y="459.50" font-size="12" text-anchor="middle" textLength="23" lengthAdjust="spacingAndGlyphs">1990</text>
<line x1="114.33" y1="444.30" x2="114.33" y2="447.60" stroke="#2a2a2a" stroke-width="1.1"/>
<text x="114.33" y="459.50" font-size="12" text-anchor="middle" textLength="23" lengthAdjust="spacingAndGlyphs">1995</text>
<line x1="154.15" y1="444.30" x2="154.15" y2="447.60" stroke="#2a2a2a" stroke-width="1.1"/>
<text x="154.15" y="459.50" font-size="12" text-anchor="middle" textLength="23" lengthAdjust="spacingAndGlyphs">2000</text>
<line x1="193.97" y1="444.30" x2="193.97" y2="447.60" stroke="#2a2a2a" stroke-width="1.1"/>
<text x="193.97" y="459.50" font-size="12" text-anchor="middle" textLength="23" lengthAdjust="spacingAndGlyphs">2005</text>
<line x1="233.80" y1="444.30" x2="233.80" y2="447.60" stroke="#2a2a2a" stroke-width="1.1"/>
<text x="233.80" y="459.50" font-size="12" text-anchor="middle" textLength="23" lengthAdjust="spacingAndGlyphs">2010</text>
<line x1="273.62" y1="444.30" x2="273.62" y2="447.60" stroke="#2a2a2a" stroke-width="1.1"/>
<text x="273.62" y="459.50" font-size="12" text-anchor="middle" textLength="23" lengthAdjust="spacingAndGlyphs">2015</text>
<line x1="313.45" y1="444.30" x2="313.45" y2="447.60" stroke="#2a2a2a" stroke-width="1.1"/>
<text x="313.45" y="459.50" font-size="12" text-anchor="middle" textLength="23" lengthAdjust="spacingAndGlyphs">2020</text>
<line x1="54.59" y1="444.30" x2="54.59" y2="446.50" stroke="#2a2a2a" stroke-width="1.0"/>
<line x1="94.41" y1="444.30" x2="94.41" y2="446.50" stroke="#2a2a2a" stroke-width="1.0"/>
<line x1="134.24" y1="444.30" x2="134.24" y2="446.50" stroke="#2a2a2a" stroke-width="1.0"/>
<line x1="174.06" y1="444.30" x2="174.06" y2="446.50" stroke="#2a2a2a" stroke-width="1.0"/>
<line x1="213.89" y1="444.30" x2="213.89" y2="446.50" stroke="#2a2a2a" stroke-width="1.0"/>
<line x1="253.71" y1="444.30" x2="253.71" y2="446.50" stroke="#2a2a2a" stroke-width="1.0"/>
<line x1="293.54" y1="444.30" x2="293.54" y2="446.50" stroke="#2a2a2a" stroke-width="1.0"/>
<text transform="translate(10.0,342.6) rotate(-90)" font-size="12" text-anchor="middle" textLength="109.3" lengthAdjust="spacingAndGlyphs">Landsat images number</text>
<text x="47.00" y="253.70" font-size="12" textLength="13.6" lengthAdjust="spacingAndGlyphs" font-weight="bold">(c)</text>
<rect x="70.00" y="244.40" width="26.60" height="13.20" fill="#0c9bff" stroke="#3a3a3a" stroke-width="0.8"/>
<text x="99.60" y="254.60" font-size="12" textLength="45.8" lengthAdjust="spacingAndGlyphs">Landsat 5</text>
<rect x="151.40" y="244.40" width="26.40" height="13.20" fill="#ff8000" stroke="#3a3a3a" stroke-width="0.8"/>
<text x="181.50" y="254.60" font-size="12" textLength="45.2" lengthAdjust="spacingAndGlyphs">Landsat 7</text>
<rect x="233.00" y="244.40" width="26.60" height="13.20" fill="#00cc00" stroke="#3a3a3a" stroke-width="0.8"/>
<text x="263.00" y="254.60" font-size="12" textLength="45.4" lengthAdjust="spacingAndGlyphs">Landsat 8</text>
<line x1="406.38" y1="263.50" x2="406.38" y2="323.26" stroke="#000" stroke-width="0.9"/>
<line x1="406.38" y1="363.34" x2="406.38" y2="429.34" stroke="#000" stroke-width="0.9"/>
<line x1="404.38" y1="263.50" x2="408.38" y2="263.50" stroke="#000" stroke-width="0.9"/>
<line x1="404.38" y1="429.34" x2="408.38" y2="429.34" stroke="#000" stroke-width="0.9"/>
<rect x="403.38" y="323.26" width="6.00" height="40.08" fill="#037f03" stroke="#0a0a0a" stroke-width="0.9"/>
<line x1="403.38" y1="345.82" x2="409.38" y2="345.82" stroke="#000" stroke-width="1.0"/>
<line x1="414.40" y1="297.34" x2="414.40" y2="316.30" stroke="#000" stroke-width="0.9"/>
<line x1="414.40" y1="366.46" x2="414.40" y2="413.26" stroke="#000" stroke-width="0.9"/>
<line x1="412.40" y1="297.34" x2="416.40" y2="297.34" stroke="#000" stroke-width="0.9"/>
<line x1="412.40" y1="413.26" x2="416.40" y2="413.26" stroke="#000" stroke-width="0.9"/>
<rect x="411.40" y="316.30" width="6.00" height="50.16" fill="#037f03" stroke="#0a0a0a" stroke-width="0.9"/>
<line x1="411.40" y1="345.10" x2="417.40" y2="345.10" stroke="#000" stroke-width="1.0"/>
<line x1="422.43" y1="279.10" x2="422.43" y2="326.14" stroke="#000" stroke-width="0.9"/>
<line x1="422.43" y1="348.94" x2="422.43" y2="356.14" stroke="#000" stroke-width="0.9"/>
<line x1="420.43" y1="279.10" x2="424.43" y2="279.10" stroke="#000" stroke-width="0.9"/>
<line x1="420.43" y1="356.14" x2="424.43" y2="356.14" stroke="#000" stroke-width="0.9"/>
<rect x="419.43" y="326.14" width="6.00" height="22.80" fill="#037f03" stroke="#0a0a0a" stroke-width="0.9"/>
<line x1="419.43" y1="335.50" x2="425.43" y2="335.50" stroke="#000" stroke-width="1.0"/>
<line x1="430.45" y1="293.02" x2="430.45" y2="319.42" stroke="#000" stroke-width="0.9"/>
<line x1="430.45" y1="356.14" x2="430.45" y2="376.30" stroke="#000" stroke-width="0.9"/>
<line x1="428.45" y1="293.02" x2="432.45" y2="293.02" stroke="#000" stroke-width="0.9"/>
<line x1="428.45" y1="376.30" x2="432.45" y2="376.30" stroke="#000" stroke-width="0.9"/>
<rect x="427.45" y="319.42" width="6.00" height="36.72" fill="#037f03" stroke="#0a0a0a" stroke-width="0.9"/>
<line x1="427.45" y1="337.42" x2="433.45" y2="337.42" stroke="#000" stroke-width="1.0"/>
<line x1="438.47" y1="313.66" x2="438.47" y2="323.26" stroke="#000" stroke-width="0.9"/>
<line x1="438.47" y1="356.14" x2="438.47" y2="390.22" stroke="#000" stroke-width="0.9"/>
<line x1="436.47" y1="313.66" x2="440.47" y2="313.66" stroke="#000" stroke-width="0.9"/>
<line x1="436.47" y1="390.22" x2="440.47" y2="390.22" stroke="#000" stroke-width="0.9"/>
<rect x="435.47" y="323.26" width="6.00" height="32.88" fill="#037f03" stroke="#0a0a0a" stroke-width="0.9"/>
<line x1="435.47" y1="341.02" x2="441.47" y2="341.02" stroke="#000" stroke-width="1.0"/>
<line x1="446.50" y1="276.46" x2="446.50" y2="323.26" stroke="#000" stroke-width="0.9"/>
<line x1="446.50" y1="347.74" x2="446.50" y2="370.30" stroke="#000" stroke-width="0.9"/>
<line x1="444.50" y1="276.46" x2="448.50" y2="276.46" stroke="#000" stroke-width="0.9"/>
<line x1="444.50" y1="370.30" x2="448.50" y2="370.30" stroke="#000" stroke-width="0.9"/>
<rect x="443.50" y="323.26" width="6.00" height="24.48" fill="#037f03" stroke="#0a0a0a" stroke-width="0.9"/>
<line x1="443.50" y1="331.66" x2="449.50" y2="331.66" stroke="#000" stroke-width="1.0"/>
<line x1="454.52" y1="293.26" x2="454.52" y2="323.26" stroke="#000" stroke-width="0.9"/>
<line x1="454.52" y1="368.14" x2="454.52" y2="390.22" stroke="#000" stroke-width="0.9"/>
<line x1="452.52" y1="293.26" x2="456.52" y2="293.26" stroke="#000" stroke-width="0.9"/>
<line x1="452.52" y1="390.22" x2="456.52" y2="390.22" stroke="#000" stroke-width="0.9"/>
<rect x="451.52" y="323.26" width="6.00" height="44.88" fill="#037f03" stroke="#0a0a0a" stroke-width="0.9"/>
<line x1="451.52" y1="345.10" x2="457.52" y2="345.10" stroke="#000" stroke-width="1.0"/>
<line x1="462.55" y1="303.10" x2="462.55" y2="331.90" stroke="#000" stroke-width="0.9"/>
<line x1="462.55" y1="364.30" x2="462.55" y2="407.26" stroke="#000" stroke-width="0.9"/>
<line x1="460.55" y1="303.10" x2="464.55" y2="303.10" stroke="#000" stroke-width="0.9"/>
<line x1="460.55" y1="407.26" x2="464.55" y2="407.26" stroke="#000" stroke-width="0.9"/>
<rect x="459.55" y="331.90" width="6.00" height="32.40" fill="#037f03" stroke="#0a0a0a" stroke-width="0.9"/>
<line x1="459.55" y1="350.62" x2="465.55" y2="350.62" stroke="#000" stroke-width="1.0"/>
<line x1="470.57" y1="288.46" x2="470.57" y2="308.14" stroke="#000" stroke-width="0.9"/>
<line x1="470.57" y1="353.26" x2="470.57" y2="383.50" stroke="#000" stroke-width="0.9"/>
<line x1="468.57" y1="288.46" x2="472.57" y2="288.46" stroke="#000" stroke-width="0.9"/>
<line x1="468.57" y1="383.50" x2="472.57" y2="383.50" stroke="#000" stroke-width="0.9"/>
<rect x="467.57" y="308.14" width="6.00" height="45.12" fill="#037f03" stroke="#0a0a0a" stroke-width="0.9"/>
<line x1="467.57" y1="333.58" x2="473.57" y2="333.58" stroke="#000" stroke-width="1.0"/>
<line x1="478.60" y1="279.10" x2="478.60" y2="319.42" stroke="#000" stroke-width="0.9"/>
<line x1="478.60" y1="359.26" x2="478.60" y2="394.30" stroke="#000" stroke-width="0.9"/>
<line x1="476.60" y1="279.10" x2="480.60" y2="279.10" stroke="#000" stroke-width="0.9"/>
<line x1="476.60" y1="394.30" x2="480.60" y2="394.30" stroke="#000" stroke-width="0.9"/>
<rect x="475.60" y="319.42" width="6.00" height="39.84" fill="#037f03" stroke="#0a0a0a" stroke-width="0.9"/>
<line x1="475.60" y1="335.98" x2="481.60" y2="335.98" stroke="#000" stroke-width="1.0"/>
<line x1="486.62" y1="275.26" x2="486.62" y2="303.10" stroke="#000" stroke-width="0.9"/>
<line x1="486.62" y1="343.42" x2="486.62" y2="383.50" stroke="#000" stroke-width="0.9"/>
<line x1="484.62" y1="275.26" x2="488.62" y2="275.26" stroke="#000" stroke-width="0.9"/>
<line x1="484.62" y1="383.50" x2="488.62" y2="383.50" stroke="#000" stroke-width="0.9"/>
<rect x="483.62" y="303.10" width="6.00" height="40.32" fill="#037f03" stroke="#0a0a0a" stroke-width="0.9"/>
<line x1="483.62" y1="323.02" x2="489.62" y2="323.02" stroke="#000" stroke-width="1.0"/>
<line x1="494.65" y1="299.26" x2="494.65" y2="326.14" stroke="#000" stroke-width="0.9"/>
<line x1="494.65" y1="368.14" x2="494.65" y2="416.14" stroke="#000" stroke-width="0.9"/>
<line x1="492.65" y1="299.26" x2="496.65" y2="299.26" stroke="#000" stroke-width="0.9"/>
<line x1="492.65" y1="416.14" x2="496.65" y2="416.14" stroke="#000" stroke-width="0.9"/>
<rect x="491.65" y="326.14" width="6.00" height="42.00" fill="#037f03" stroke="#0a0a0a" stroke-width="0.9"/>
<line x1="491.65" y1="345.82" x2="497.65" y2="345.82" stroke="#000" stroke-width="1.0"/>
<line x1="502.68" y1="277.42" x2="502.68" y2="303.10" stroke="#000" stroke-width="0.9"/>
<line x1="502.68" y1="356.14" x2="502.68" y2="392.38" stroke="#000" stroke-width="0.9"/>
<line x1="500.68" y1="277.42" x2="504.68" y2="277.42" stroke="#000" stroke-width="0.9"/>
<line x1="500.68" y1="392.38" x2="504.68" y2="392.38" stroke="#000" stroke-width="0.9"/>
<rect x="499.68" y="303.10" width="6.00" height="53.04" fill="#037f03" stroke="#0a0a0a" stroke-width="0.9"/>
<line x1="499.68" y1="331.66" x2="505.68" y2="331.66" stroke="#000" stroke-width="1.0"/>
<line x1="510.70" y1="304.78" x2="510.70" y2="318.46" stroke="#000" stroke-width="0.9"/>
<line x1="510.70" y1="340.30" x2="510.70" y2="379.18" stroke="#000" stroke-width="0.9"/>
<line x1="508.70" y1="304.78" x2="512.70" y2="304.78" stroke="#000" stroke-width="0.9"/>
<line x1="508.70" y1="379.18" x2="512.70" y2="379.18" stroke="#000" stroke-width="0.9"/>
<rect x="507.70" y="318.46" width="6.00" height="21.84" fill="#037f03" stroke="#0a0a0a" stroke-width="0.9"/>
<line x1="507.70" y1="332.38" x2="513.70" y2="332.38" stroke="#000" stroke-width="1.0"/>
<line x1="518.73" y1="301.42" x2="518.73" y2="325.18" stroke="#000" stroke-width="0.9"/>
<line x1="518.73" y1="352.30" x2="518.73" y2="383.50" stroke="#000" stroke-width="0.9"/>
<line x1="516.73" y1="301.42" x2="520.73" y2="301.42" stroke="#000" stroke-width="0.9"/>
<line x1="516.73" y1="383.50" x2="520.73" y2="383.50" stroke="#000" stroke-width="0.9"/>
<rect x="515.73" y="325.18" width="6.00" height="27.12" fill="#037f03" stroke="#0a0a0a" stroke-width="0.9"/>
<line x1="515.73" y1="337.18" x2="521.73" y2="337.18" stroke="#000" stroke-width="1.0"/>
<line x1="526.75" y1="283.90" x2="526.75" y2="317.50" stroke="#000" stroke-width="0.9"/>
<line x1="526.75" y1="337.42" x2="526.75" y2="354.22" stroke="#000" stroke-width="0.9"/>
<line x1="524.75" y1="283.90" x2="528.75" y2="283.90" stroke="#000" stroke-width="0.9"/>
<line x1="524.75" y1="354.22" x2="528.75" y2="354.22" stroke="#000" stroke-width="0.9"/>
<rect x="523.75" y="317.50" width="6.00" height="19.92" fill="#037f03" stroke="#0a0a0a" stroke-width="0.9"/>
<line x1="523.75" y1="325.66" x2="529.75" y2="325.66" stroke="#000" stroke-width="1.0"/>
<line x1="534.77" y1="314.38" x2="534.77" y2="330.94" stroke="#000" stroke-width="0.9"/>
<line x1="534.77" y1="353.50" x2="534.77" y2="383.50" stroke="#000" stroke-width="0.9"/>
<line x1="532.77" y1="314.38" x2="536.77" y2="314.38" stroke="#000" stroke-width="0.9"/>
<line x1="532.77" y1="383.50" x2="536.77" y2="383.50" stroke="#000" stroke-width="0.9"/>
<rect x="531.77" y="330.94" width="6.00" height="22.56" fill="#037f03" stroke="#0a0a0a" stroke-width="0.9"/>
<line x1="531.77" y1="343.66" x2="537.77" y2="343.66" stroke="#000" stroke-width="1.0"/>
<line x1="542.80" y1="290.38" x2="542.80" y2="317.50" stroke="#000" stroke-width="0.9"/>
<line x1="542.80" y1="343.42" x2="542.80" y2="373.90" stroke="#000" stroke-width="0.9"/>
<line x1="540.80" y1="290.38" x2="544.80" y2="290.38" stroke="#000" stroke-width="0.9"/>
<line x1="540.80" y1="373.90" x2="544.80" y2="373.90" stroke="#000" stroke-width="0.9"/>
<rect x="539.80" y="317.50" width="6.00" height="25.92" fill="#037f03" stroke="#0a0a0a" stroke-width="0.9"/>
<line x1="539.80" y1="331.90" x2="545.80" y2="331.90" stroke="#000" stroke-width="1.0"/>
<line x1="550.83" y1="312.46" x2="550.83" y2="328.30" stroke="#000" stroke-width="0.9"/>
<line x1="550.83" y1="349.18" x2="550.83" y2="374.86" stroke="#000" stroke-width="0.9"/>
<line x1="548.83" y1="312.46" x2="552.83" y2="312.46" stroke="#000" stroke-width="0.9"/>
<line x1="548.83" y1="374.86" x2="552.83" y2="374.86" stroke="#000" stroke-width="0.9"/>
<rect x="547.83" y="328.30" width="6.00" height="20.88" fill="#037f03" stroke="#0a0a0a" stroke-width="0.9"/>
<line x1="547.83" y1="340.06" x2="553.83" y2="340.06" stroke="#000" stroke-width="1.0"/>
<line x1="558.85" y1="293.02" x2="558.85" y2="321.34" stroke="#000" stroke-width="0.9"/>
<line x1="558.85" y1="346.06" x2="558.85" y2="383.50" stroke="#000" stroke-width="0.9"/>
<line x1="556.85" y1="293.02" x2="560.85" y2="293.02" stroke="#000" stroke-width="0.9"/>
<line x1="556.85" y1="383.50" x2="560.85" y2="383.50" stroke="#000" stroke-width="0.9"/>
<rect x="555.85" y="321.34" width="6.00" height="24.72" fill="#037f03" stroke="#0a0a0a" stroke-width="0.9"/>
<line x1="555.85" y1="334.30" x2="561.85" y2="334.30" stroke="#000" stroke-width="1.0"/>
<line x1="566.88" y1="292.30" x2="566.88" y2="316.30" stroke="#000" stroke-width="0.9"/>
<line x1="566.88" y1="343.42" x2="566.88" y2="356.14" stroke="#000" stroke-width="0.9"/>
<line x1="564.88" y1="292.30" x2="568.88" y2="292.30" stroke="#000" stroke-width="0.9"/>
<line x1="564.88" y1="356.14" x2="568.88" y2="356.14" stroke="#000" stroke-width="0.9"/>
<rect x="563.88" y="316.30" width="6.00" height="27.12" fill="#037f03" stroke="#0a0a0a" stroke-width="0.9"/>
<line x1="563.88" y1="329.26" x2="569.88" y2="329.26" stroke="#000" stroke-width="1.0"/>
<line x1="574.90" y1="279.34" x2="574.90" y2="294.46" stroke="#000" stroke-width="0.9"/>
<line x1="574.90" y1="331.42" x2="574.90" y2="363.10" stroke="#000" stroke-width="0.9"/>
<line x1="572.90" y1="279.34" x2="576.90" y2="279.34" stroke="#000" stroke-width="0.9"/>
<line x1="572.90" y1="363.10" x2="576.90" y2="363.10" stroke="#000" stroke-width="0.9"/>
<rect x="571.90" y="294.46" width="6.00" height="36.96" fill="#037f03" stroke="#0a0a0a" stroke-width="0.9"/>
<line x1="571.90" y1="315.58" x2="577.90" y2="315.58" stroke="#000" stroke-width="1.0"/>
<line x1="582.92" y1="294.46" x2="582.92" y2="319.42" stroke="#000" stroke-width="0.9"/>
<line x1="582.92" y1="347.98" x2="582.92" y2="371.02" stroke="#000" stroke-width="0.9"/>
<line x1="580.92" y1="294.46" x2="584.92" y2="294.46" stroke="#000" stroke-width="0.9"/>
<line x1="580.92" y1="371.02" x2="584.92" y2="371.02" stroke="#000" stroke-width="0.9"/>
<rect x="579.92" y="319.42" width="6.00" height="28.56" fill="#037f03" stroke="#0a0a0a" stroke-width="0.9"/>
<line x1="579.92" y1="332.14" x2="585.92" y2="332.14" stroke="#000" stroke-width="1.0"/>
<line x1="590.95" y1="287.98" x2="590.95" y2="308.38" stroke="#000" stroke-width="0.9"/>
<line x1="590.95" y1="331.42" x2="590.95" y2="369.10" stroke="#000" stroke-width="0.9"/>
<line x1="588.95" y1="287.98" x2="592.95" y2="287.98" stroke="#000" stroke-width="0.9"/>
<line x1="588.95" y1="369.10" x2="592.95" y2="369.10" stroke="#000" stroke-width="0.9"/>
<rect x="587.95" y="308.38" width="6.00" height="23.04" fill="#037f03" stroke="#0a0a0a" stroke-width="0.9"/>
<line x1="587.95" y1="323.50" x2="593.95" y2="323.50" stroke="#000" stroke-width="1.0"/>
<line x1="598.98" y1="293.02" x2="598.98" y2="311.50" stroke="#000" stroke-width="0.9"/>
<line x1="598.98" y1="351.10" x2="598.98" y2="378.70" stroke="#000" stroke-width="0.9"/>
<line x1="596.98" y1="293.02" x2="600.98" y2="293.02" stroke="#000" stroke-width="0.9"/>
<line x1="596.98" y1="378.70" x2="600.98" y2="378.70" stroke="#000" stroke-width="0.9"/>
<rect x="595.98" y="311.50" width="6.00" height="39.60" fill="#037f03" stroke="#0a0a0a" stroke-width="0.9"/>
<line x1="595.98" y1="331.18" x2="601.98" y2="331.18" stroke="#000" stroke-width="1.0"/>
<line x1="607.00" y1="277.42" x2="607.00" y2="311.50" stroke="#000" stroke-width="0.9"/>
<line x1="607.00" y1="347.26" x2="607.00" y2="404.38" stroke="#000" stroke-width="0.9"/>
<line x1="605.00" y1="277.42" x2="609.00" y2="277.42" stroke="#000" stroke-width="0.9"/>
<line x1="605.00" y1="404.38" x2="609.00" y2="404.38" stroke="#000" stroke-width="0.9"/>
<rect x="604.00" y="311.50" width="6.00" height="35.76" fill="#037f03" stroke="#0a0a0a" stroke-width="0.9"/>
<line x1="604.00" y1="331.18" x2="610.00" y2="331.18" stroke="#000" stroke-width="1.0"/>
<line x1="615.02" y1="285.10" x2="615.02" y2="306.46" stroke="#000" stroke-width="0.9"/>
<line x1="615.02" y1="340.30" x2="615.02" y2="359.50" stroke="#000" stroke-width="0.9"/>
<line x1="613.02" y1="285.10" x2="617.02" y2="285.10" stroke="#000" stroke-width="0.9"/>
<line x1="613.02" y1="359.50" x2="617.02" y2="359.50" stroke="#000" stroke-width="0.9"/>
<rect x="612.02" y="306.46" width="6.00" height="33.84" fill="#037f03" stroke="#0a0a0a" stroke-width="0.9"/>
<line x1="612.02" y1="323.26" x2="618.02" y2="323.26" stroke="#000" stroke-width="1.0"/>
<line x1="623.05" y1="316.06" x2="623.05" y2="337.18" stroke="#000" stroke-width="0.9"/>
<line x1="623.05" y1="355.90" x2="623.05" y2="386.14" stroke="#000" stroke-width="0.9"/>
<line x1="621.05" y1="316.06" x2="625.05" y2="316.06" stroke="#000" stroke-width="0.9"/>
<line x1="621.05" y1="386.14" x2="625.05" y2="386.14" stroke="#000" stroke-width="0.9"/>
<rect x="620.05" y="337.18" width="6.00" height="18.72" fill="#037f03" stroke="#0a0a0a" stroke-width="0.9"/>
<line x1="620.05" y1="346.54" x2="626.05" y2="346.54" stroke="#000" stroke-width="1.0"/>
<line x1="631.08" y1="326.14" x2="631.08" y2="339.34" stroke="#000" stroke-width="0.9"/>
<line x1="631.08" y1="358.30" x2="631.08" y2="377.74" stroke="#000" stroke-width="0.9"/>
<line x1="629.08" y1="326.14" x2="633.08" y2="326.14" stroke="#000" stroke-width="0.9"/>
<line x1="629.08" y1="377.74" x2="633.08" y2="377.74" stroke="#000" stroke-width="0.9"/>
<rect x="628.08" y="339.34" width="6.00" height="18.96" fill="#037f03" stroke="#0a0a0a" stroke-width="0.9"/>
<line x1="628.08" y1="347.50" x2="634.08" y2="347.50" stroke="#000" stroke-width="1.0"/>
<line x1="639.10" y1="307.90" x2="639.10" y2="331.90" stroke="#000" stroke-width="0.9"/>
<line x1="639.10" y1="348.94" x2="639.10" y2="389.26" stroke="#000" stroke-width="0.9"/>
<line x1="637.10" y1="307.90" x2="641.10" y2="307.90" stroke="#000" stroke-width="0.9"/>
<line x1="637.10" y1="389.26" x2="641.10" y2="389.26" stroke="#000" stroke-width="0.9"/>
<rect x="636.10" y="331.90" width="6.00" height="17.04" fill="#037f03" stroke="#0a0a0a" stroke-width="0.9"/>
<line x1="636.10" y1="342.70" x2="642.10" y2="342.70" stroke="#000" stroke-width="1.0"/>
<line x1="647.12" y1="323.26" x2="647.12" y2="343.18" stroke="#000" stroke-width="0.9"/>
<line x1="647.12" y1="365.26" x2="647.12" y2="380.38" stroke="#000" stroke-width="0.9"/>
<line x1="645.12" y1="323.26" x2="649.12" y2="323.26" stroke="#000" stroke-width="0.9"/>
<line x1="645.12" y1="380.38" x2="649.12" y2="380.38" stroke="#000" stroke-width="0.9"/>
<rect x="644.12" y="343.18" width="6.00" height="22.08" fill="#037f03" stroke="#0a0a0a" stroke-width="0.9"/>
<line x1="644.12" y1="355.42" x2="650.12" y2="355.42" stroke="#000" stroke-width="1.0"/>
<line x1="655.15" y1="318.46" x2="655.15" y2="343.18" stroke="#000" stroke-width="0.9"/>
<line x1="655.15" y1="362.38" x2="655.15" y2="383.50" stroke="#000" stroke-width="0.9"/>
<line x1="653.15" y1="318.46" x2="657.15" y2="318.46" stroke="#000" stroke-width="0.9"/>
<line x1="653.15" y1="383.50" x2="657.15" y2="383.50" stroke="#000" stroke-width="0.9"/>
<rect x="652.15" y="343.18" width="6.00" height="19.20" fill="#037f03" stroke="#0a0a0a" stroke-width="0.9"/>
<line x1="652.15" y1="353.50" x2="658.15" y2="353.50" stroke="#000" stroke-width="1.0"/>
<line x1="663.17" y1="313.42" x2="663.17" y2="334.30" stroke="#000" stroke-width="0.9"/>
<line x1="663.17" y1="371.74" x2="663.17" y2="391.66" stroke="#000" stroke-width="0.9"/>
<line x1="661.17" y1="313.42" x2="665.17" y2="313.42" stroke="#000" stroke-width="0.9"/>
<line x1="661.17" y1="391.66" x2="665.17" y2="391.66" stroke="#000" stroke-width="0.9"/>
<rect x="660.17" y="334.30" width="6.00" height="37.44" fill="#037f03" stroke="#0a0a0a" stroke-width="0.9"/>
<line x1="660.17" y1="353.50" x2="666.17" y2="353.50" stroke="#000" stroke-width="1.0"/>
<line x1="671.20" y1="314.62" x2="671.20" y2="332.14" stroke="#000" stroke-width="0.9"/>
<line x1="671.20" y1="353.02" x2="671.20" y2="376.54" stroke="#000" stroke-width="0.9"/>
<line x1="669.20" y1="314.62" x2="673.20" y2="314.62" stroke="#000" stroke-width="0.9"/>
<line x1="669.20" y1="376.54" x2="673.20" y2="376.54" stroke="#000" stroke-width="0.9"/>
<rect x="668.20" y="332.14" width="6.00" height="20.88" fill="#037f03" stroke="#0a0a0a" stroke-width="0.9"/>
<line x1="668.20" y1="340.30" x2="674.20" y2="340.30" stroke="#000" stroke-width="1.0"/>
<line x1="408.57" y1="345.62" x2="412.21" y2="345.30" stroke="#ff1a1a" stroke-width="1.5"/>
<line x1="415.81" y1="343.41" x2="421.01" y2="337.19" stroke="#ff1a1a" stroke-width="1.5"/>
<line x1="424.56" y1="336.01" x2="428.31" y2="336.91" stroke="#ff1a1a" stroke-width="1.5"/>
<line x1="432.46" y1="338.32" x2="436.47" y2="340.12" stroke="#ff1a1a" stroke-width="1.5"/>
<line x1="439.91" y1="339.35" x2="445.07" y2="333.33" stroke="#ff1a1a" stroke-width="1.5"/>
<line x1="447.63" y1="333.55" x2="453.40" y2="343.21" stroke="#ff1a1a" stroke-width="1.5"/>
<line x1="456.34" y1="346.35" x2="460.74" y2="349.37" stroke="#ff1a1a" stroke-width="1.5"/>
<line x1="463.49" y1="348.63" x2="469.64" y2="335.57" stroke="#ff1a1a" stroke-width="1.5"/>
<line x1="472.68" y1="334.21" x2="476.49" y2="335.35" stroke="#ff1a1a" stroke-width="1.5"/>
<line x1="479.76" y1="334.11" x2="485.47" y2="324.89" stroke="#ff1a1a" stroke-width="1.5"/>
<line x1="487.36" y1="325.10" x2="493.92" y2="343.74" stroke="#ff1a1a" stroke-width="1.5"/>
<line x1="495.73" y1="343.91" x2="501.59" y2="333.57" stroke="#ff1a1a" stroke-width="1.5"/>
<line x1="504.87" y1="331.86" x2="508.51" y2="332.18" stroke="#ff1a1a" stroke-width="1.5"/>
<line x1="512.59" y1="333.51" x2="516.84" y2="336.05" stroke="#ff1a1a" stroke-width="1.5"/>
<line x1="519.98" y1="335.37" x2="525.49" y2="327.47" stroke="#ff1a1a" stroke-width="1.5"/>
<line x1="527.65" y1="327.67" x2="533.88" y2="341.65" stroke="#ff1a1a" stroke-width="1.5"/>
<line x1="536.02" y1="341.84" x2="541.56" y2="333.72" stroke="#ff1a1a" stroke-width="1.5"/>
<line x1="544.34" y1="333.47" x2="549.28" y2="338.49" stroke="#ff1a1a" stroke-width="1.5"/>
<line x1="552.61" y1="338.78" x2="557.06" y2="335.58" stroke="#ff1a1a" stroke-width="1.5"/>
<line x1="560.71" y1="333.13" x2="565.01" y2="330.43" stroke="#ff1a1a" stroke-width="1.5"/>
<line x1="567.99" y1="327.36" x2="573.79" y2="317.48" stroke="#ff1a1a" stroke-width="1.5"/>
<line x1="575.86" y1="317.56" x2="581.97" y2="330.16" stroke="#ff1a1a" stroke-width="1.5"/>
<line x1="584.42" y1="330.53" x2="589.45" y2="325.11" stroke="#ff1a1a" stroke-width="1.5"/>
<line x1="592.54" y1="325.02" x2="597.39" y2="329.66" stroke="#ff1a1a" stroke-width="1.5"/>
<line x1="601.18" y1="331.18" x2="604.80" y2="331.18" stroke="#ff1a1a" stroke-width="1.5"/>
<line x1="608.57" y1="329.63" x2="613.46" y2="324.81" stroke="#ff1a1a" stroke-width="1.5"/>
<line x1="615.74" y1="325.34" x2="622.33" y2="344.46" stroke="#ff1a1a" stroke-width="1.5"/>
<line x1="625.23" y1="346.80" x2="628.89" y2="347.24" stroke="#ff1a1a" stroke-width="1.5"/>
<line x1="632.96" y1="346.37" x2="637.21" y2="343.83" stroke="#ff1a1a" stroke-width="1.5"/>
<line x1="640.27" y1="344.56" x2="645.95" y2="353.56" stroke="#ff1a1a" stroke-width="1.5"/>
<line x1="649.26" y1="354.91" x2="653.01" y2="354.01" stroke="#ff1a1a" stroke-width="1.5"/>
<line x1="657.35" y1="353.50" x2="660.97" y2="353.50" stroke="#ff1a1a" stroke-width="1.5"/>
<line x1="664.32" y1="351.62" x2="670.06" y2="342.18" stroke="#ff1a1a" stroke-width="1.5"/>
<path d="M403.98,345.82 L406.38,343.82 L408.77,345.82 L406.38,347.82 Z" fill="#000"/>
<path d="M412.00,345.10 L414.40,343.10 L416.80,345.10 L414.40,347.10 Z" fill="#000"/>
<path d="M420.03,335.50 L422.43,333.50 L424.82,335.50 L422.43,337.50 Z" fill="#000"/>
<path d="M428.05,337.42 L430.45,335.42 L432.85,337.42 L430.45,339.42 Z" fill="#000"/>
<path d="M436.07,341.02 L438.47,339.02 L440.87,341.02 L438.47,343.02 Z" fill="#000"/>
<path d="M444.10,331.66 L446.50,329.66 L448.90,331.66 L446.50,333.66 Z" fill="#000"/>
<path d="M452.12,345.10 L454.52,343.10 L456.92,345.10 L454.52,347.10 Z" fill="#000"/>
<path d="M460.15,350.62 L462.55,348.62 L464.95,350.62 L462.55,352.62 Z" fill="#000"/>
<path d="M468.18,333.58 L470.57,331.58 L472.97,333.58 L470.57,335.58 Z" fill="#000"/>
<path d="M476.20,335.98 L478.60,333.98 L481.00,335.98 L478.60,337.98 Z" fill="#000"/>
<path d="M484.23,323.02 L486.62,321.02 L489.02,323.02 L486.62,325.02 Z" fill="#000"/>
<path d="M492.25,345.82 L494.65,343.82 L497.05,345.82 L494.65,347.82 Z" fill="#000"/>
<path d="M500.28,331.66 L502.68,329.66 L505.07,331.66 L502.68,333.66 Z" fill="#000"/>
<path d="M508.30,332.38 L510.70,330.38 L513.10,332.38 L510.70,334.38 Z" fill="#000"/>
<path d="M516.33,337.18 L518.73,335.18 L521.12,337.18 L518.73,339.18 Z" fill="#000"/>
<path d="M524.35,325.66 L526.75,323.66 L529.15,325.66 L526.75,327.66 Z" fill="#000"/>
<path d="M532.38,343.66 L534.77,341.66 L537.17,343.66 L534.77,345.66 Z" fill="#000"/>
<path d="M540.40,331.90 L542.80,329.90 L545.20,331.90 L542.80,333.90 Z" fill="#000"/>
<path d="M548.43,340.06 L550.83,338.06 L553.23,340.06 L550.83,342.06 Z" fill="#000"/>
<path d="M556.45,334.30 L558.85,332.30 L561.25,334.30 L558.85,336.30 Z" fill="#000"/>
<path d="M564.48,329.26 L566.88,327.26 L569.27,329.26 L566.88,331.26 Z" fill="#000"/>
<path d="M572.50,315.58 L574.90,313.58 L577.30,315.58 L574.90,317.58 Z" fill="#000"/>
<path d="M580.52,332.14 L582.92,330.14 L585.32,332.14 L582.92,334.14 Z" fill="#000"/>
<path d="M588.55,323.50 L590.95,321.50 L593.35,323.50 L590.95,325.50 Z" fill="#000"/>
<path d="M596.58,331.18 L598.98,329.18 L601.38,331.18 L598.98,333.18 Z" fill="#000"/>
<path d="M604.60,331.18 L607.00,329.18 L609.40,331.18 L607.00,333.18 Z" fill="#000"/>
<path d="M612.62,323.26 L615.02,321.26 L617.42,323.26 L615.02,325.26 Z" fill="#000"/>
<path d="M620.65,346.54 L623.05,344.54 L625.45,346.54 L623.05,348.54 Z" fill="#000"/>
<path d="M628.68,347.50 L631.08,345.50 L633.48,347.50 L631.08,349.50 Z" fill="#000"/>
<path d="M636.70,342.70 L639.10,340.70 L641.50,342.70 L639.10,344.70 Z" fill="#000"/>
<path d="M644.73,355.42 L647.12,353.42 L649.52,355.42 L647.12,357.42 Z" fill="#000"/>
<path d="M652.75,353.50 L655.15,351.50 L657.55,353.50 L655.15,355.50 Z" fill="#000"/>
<path d="M660.77,353.50 L663.17,351.50 L665.57,353.50 L663.17,355.50 Z" fill="#000"/>
<path d="M668.80,340.30 L671.20,338.30 L673.60,340.30 L671.20,342.30 Z" fill="#000"/>
<rect x="394.3" y="239.5" width="280.99999999999994" height="203.5" fill="none" stroke="#2a2a2a" stroke-width="1.25"/>
<line x1="390.80" y1="407.50" x2="394.30" y2="407.50" stroke="#2a2a2a" stroke-width="1.1"/>
<text x="387.20" y="411.50" font-size="12" text-anchor="end" textLength="13.2" lengthAdjust="spacingAndGlyphs">0.4</text>
<line x1="390.80" y1="359.50" x2="394.30" y2="359.50" stroke="#2a2a2a" stroke-width="1.1"/>
<text x="387.20" y="363.50" font-size="12" text-anchor="end" textLength="13.2" lengthAdjust="spacingAndGlyphs">0.6</text>
<line x1="390.80" y1="311.50" x2="394.30" y2="311.50" stroke="#2a2a2a" stroke-width="1.1"/>
<text x="387.20" y="315.50" font-size="12" text-anchor="end" textLength="13.2" lengthAdjust="spacingAndGlyphs">0.8</text>
<line x1="390.80" y1="263.50" x2="394.30" y2="263.50" stroke="#2a2a2a" stroke-width="1.1"/>
<text x="387.20" y="267.50" font-size="12" text-anchor="end" textLength="13.2" lengthAdjust="spacingAndGlyphs">1.0</text>
<line x1="392.10" y1="431.50" x2="394.30" y2="431.50" stroke="#2a2a2a" stroke-width="1.0"/>
<line x1="392.10" y1="383.50" x2="394.30" y2="383.50" stroke="#2a2a2a" stroke-width="1.0"/>
<line x1="392.10" y1="335.50" x2="394.30" y2="335.50" stroke="#2a2a2a" stroke-width="1.0"/>
<line x1="392.10" y1="287.50" x2="394.30" y2="287.50" stroke="#2a2a2a" stroke-width="1.0"/>
<line x1="430.45" y1="443.00" x2="430.45" y2="446.30" stroke="#2a2a2a" stroke-width="1.1"/>
<text x="430.45" y="459.20" font-size="12" text-anchor="middle" textLength="23" lengthAdjust="spacingAndGlyphs">1990</text>
<line x1="470.57" y1="443.00" x2="470.57" y2="446.30" stroke="#2a2a2a" stroke-width="1.1"/>
<text x="470.57" y="459.20" font-size="12" text-anchor="middle" textLength="23" lengthAdjust="spacingAndGlyphs">1995</text>
<line x1="510.70" y1="443.00" x2="510.70" y2="446.30" stroke="#2a2a2a" stroke-width="1.1"/>
<text x="510.70" y="459.20" font-size="12" text-anchor="middle" textLength="23" lengthAdjust="spacingAndGlyphs">2000</text>
<line x1="550.83" y1="443.00" x2="550.83" y2="446.30" stroke="#2a2a2a" stroke-width="1.1"/>
<text x="550.83" y="459.20" font-size="12" text-anchor="middle" textLength="23" lengthAdjust="spacingAndGlyphs">2005</text>
<line x1="590.95" y1="443.00" x2="590.95" y2="446.30" stroke="#2a2a2a" stroke-width="1.1"/>
<text x="590.95" y="459.20" font-size="12" text-anchor="middle" textLength="23" lengthAdjust="spacingAndGlyphs">2010</text>
<line x1="631.08" y1="443.00" x2="631.08" y2="446.30" stroke="#2a2a2a" stroke-width="1.1"/>
<text x="631.08" y="459.20" font-size="12" text-anchor="middle" textLength="23" lengthAdjust="spacingAndGlyphs">2015</text>
<line x1="671.20" y1="443.00" x2="671.20" y2="446.30" stroke="#2a2a2a" stroke-width="1.1"/>
<text x="671.20" y="459.20" font-size="12" text-anchor="middle" textLength="23" lengthAdjust="spacingAndGlyphs">2020</text>
<text transform="translate(364.3,340.9) rotate(-90)" font-size="13" text-anchor="middle" textLength="156.8" lengthAdjust="spacingAndGlyphs">Coverage rates of valid pixels</text>
<text x="402.50" y="256.00" font-size="14" textLength="16.7" lengthAdjust="spacingAndGlyphs">(d)</text>
</svg></body></html>
